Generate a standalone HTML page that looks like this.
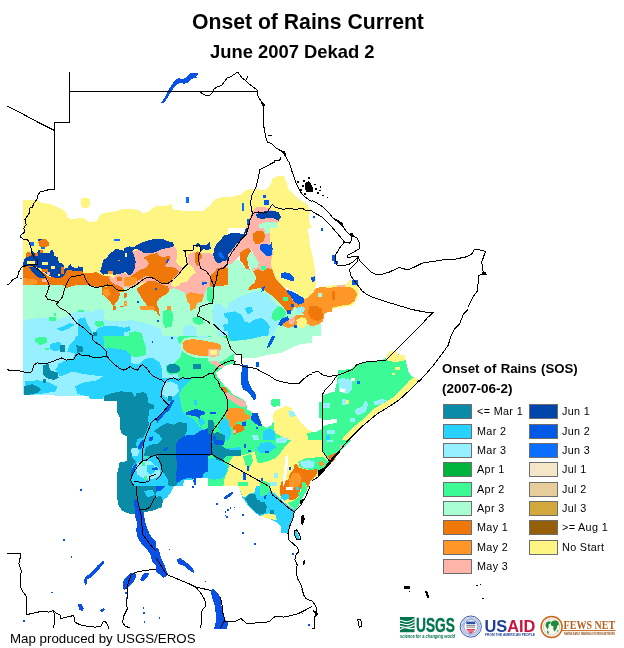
<!DOCTYPE html>
<html><head><meta charset="utf-8"><title>Onset of Rains Current</title>
<style>
html,body{margin:0;padding:0;background:#fff;}
body{width:624px;height:648px;overflow:hidden;position:relative;font-family:"Liberation Sans",Arial,sans-serif;color:#000;}
#map{position:absolute;left:0;top:0;}
.t{position:absolute;white-space:nowrap;line-height:1;will-change:transform;}
#t1{left:192px;top:11px;font-size:21.2px;font-weight:bold;}
#t2{left:210px;top:43px;font-size:18.4px;font-weight:bold;}
#lt1{left:442px;top:362px;font-size:13.2px;font-weight:bold;word-spacing:0.8px;}
#lt2{left:442px;top:382px;font-size:13.5px;font-weight:bold;}
.sw{position:absolute;width:27px;height:13px;border:1px solid #6e6e6e;}
.lb{font-size:10.8px;letter-spacing:0.35px;}
#ft{left:10px;top:632px;font-size:13.3px;}
</style></head><body>
<svg id="map" width="624" height="648" viewBox="0 0 624 648">
<clipPath id="c0"><rect x="0" y="0" width="156" height="162"/></clipPath>
<g clip-path="url(#c0)" shape-rendering="crispEdges">
</g>
<clipPath id="c1"><rect x="0" y="162" width="156" height="162"/></clipPath>
<g clip-path="url(#c1)" shape-rendering="crispEdges">
<polygon fill="#FFF582" points="23,200 37.5,200 41.2,202.5 50,204 56.2,206.5 62.5,209.5 66.2,213.2 67.5,217.5 72.5,219.5 78.8,217.5 85,219 87.5,221.5 93.8,222.5 97.5,220 99.5,215.8 103.8,212.8 112.5,212 121.2,209.5 132.5,209 140,210.8 143,213.8 148.8,211.5 152.5,208.2 156,206.5 156,282 23,282"/>
<polygon fill="#FFF582" points="81.2,199.5 83,197.5 88,197.5 89.5,199.5 89.5,206 88,208 82.5,208 81.2,206"/>
<polygon fill="#AAFFD2" points="23,279.5 156,279.5 156,324 23,324"/>
<polygon fill="#F0780A" points="23,267 30,267 33.8,269 37.5,270 42.5,272 48.8,275.8 57.5,274.5 62.5,271.5 67.5,272 72.5,270.8 80,269.5 85,272 95,271.5 100,273.2 105,275.8 112.5,277 117.5,276.5 125,274.5 135,272 140,269.5 150,264.5 156,262 156,312 150,314.5 146.2,312 140,308.2 138.8,304.5 143.8,302 141.2,292 135,287 130,290.8 125,289.5 127.5,297 130,304.5 123.8,308.2 117.5,304.5 112.5,307 107.5,302 102.5,297 101.2,287 95,287 90,284.5 86.2,282 80,282.5 75,284.5 70,287 65.5,287 60,284.5 50,282 45,281.5 37.5,283.2 30,284 23,284"/>
<polygon fill="#FF9628" points="23,279 37.5,279.5 47.5,279.5 48.8,284 37.5,284.5 23,284.5"/>
<polygon fill="#FF9628" points="102.5,287 110,288.2 112.5,297 107.5,299.5 103.8,294.5"/>
<polygon fill="#0046AA" points="23,259.5 25,254.5 28.8,252 31.2,247 30,242 33.8,242 33.8,247 37.5,248.2 39.5,239.5 41.2,239.5 41.2,248.2 48.8,248.2 48.8,252 52.5,250.8 53.8,257 58.8,258.2 59.5,267 62.5,267 65,265.8 67.5,268.2 72.5,269.5 75,267 82.5,267 82.5,272 75,272 70,273.2 65.5,274.5 60,279.5 57.5,275.8 50,274.5 46.2,272 42.5,268.2 37.5,264.5 32.5,264.5 27.5,265.8 23,265.8"/>
<polygon fill="#0046AA" points="28.8,267 37.5,267 43.8,273.2 47.5,279.5 37.5,278.2 32.5,273.2"/>
<polygon fill="#F0780A" points="41.2,239.5 48.8,239.5 48.8,247 41.2,247"/>
<polygon fill="#F0780A" points="25,252 30,252 30,256.5 25,256.5"/>
<polygon fill="#F0780A" points="35,253.2 39.5,253.2 39.5,257 35,257"/>
<polygon fill="#0A6EFF" points="30,242.5 33.8,242.5 33.8,245.8 30,245.8"/>
<polygon fill="#0A6EFF" points="39.5,246.5 44.5,246.5 44.5,248.5 39.5,248.5"/>
<polygon fill="#FFF582" points="45,258.2 50,258.2 50,262 45,262"/>
<polygon fill="#FFF582" points="40,260.8 43.8,260.8 43.8,264.5 40,264.5"/>
<polygon fill="#FFF582" points="60,257 63.8,257 63.8,259 60,259"/>
<polygon fill="#FFF582" points="66.2,263.2 70,263.2 70,265.8 66.2,265.8"/>
<polygon fill="#FFF582" points="57,272 60,272 60,279.5 57,279.5"/>
<polygon fill="#FFF582" points="51.2,272 55.5,272 55.5,274.5 51.2,274.5"/>
<polygon fill="#FFB4AA" points="43.8,269 48.8,269 48.8,272 43.8,272"/>
<polygon fill="#F0780A" points="60,268.2 65.5,268.2 65.5,272 60,272"/>
<polygon fill="#0046AA" points="100,272 102.5,267 103.8,260.8 107.5,258.2 112.5,252 120,249.5 127.5,248.2 135,245.8 142.5,243.2 150,241.5 156,239.5 156,248.2 150,249.5 145,248.2 138.8,249.5 133.8,252 136.2,260.8 137,269.5 130,270 125,272 117.5,271.5 112.5,274.5 107.5,275.8"/>
<polygon fill="#0A6EFF" points="107.5,270.8 113.8,270.8 113.8,274.5 107.5,274.5"/>
<polygon fill="#0A6EFF" points="114.5,239 120,239 120,240.8 114.5,240.8"/>
<polygon fill="#FFB4AA" points="133.8,252 140,249.5 146.2,249 151.2,250.8 156,249.5 156,260.8 150,264.5 147.5,272 142.5,275.8 136.2,279.5 130,282 125,287 117.5,288.2 113.8,285.8 112.5,279.5 117.5,277 125,274.5 130,270.8 137,269.5 136.2,260.8"/>
<polygon fill="#F0780A" points="142,255.8 148,255.8 148,260.8 142,260.8"/>
<polygon fill="#F0780A" points="150,253.2 156,253.2 156,258.2 150,258.2"/>
<polygon fill="#FFB4AA" points="147.5,277 156,277 156,280.8 147.5,280.8"/>
<polygon fill="#FFB4AA" points="120,297 125,297 125,302 120,302"/>
<polygon fill="#AAFFD2" points="123.8,302 127.5,302 127.5,305.8 123.8,305.8"/>
<polygon fill="#0A6EFF" points="137.5,300.8 139.5,300.8 139.5,303.2 137.5,303.2"/>
<polygon fill="#0A6EFF" points="154,285.8 156,285.8 156,289.5 154,289.5"/>
<polygon fill="#96F0FF" points="63.8,312 67.5,309.5 75,310.8 85,309.5 92.5,310.8 98.8,309.5 105,312 105,315.8 110,319.5 156,320.8 156,327 23,327 23,322 50,320.8 60,319.5 62.5,315.8"/>
<polygon fill="#28D2FF" points="77.5,317 82.5,313.2 87.5,315.8 92.5,313.2 96.2,318.2 95,327 77.5,327"/>
<polygon fill="#3CFA96" points="50,317 53.8,317 53.8,319.5 50,319.5"/>
<polygon fill="#3CFA96" points="78.8,310.8 83.8,310.8 83.8,312.5 78.8,312.5"/>
<polygon fill="#3CFA96" points="100,312 103.8,312 103.8,315 100,315"/>
</g>
<clipPath id="c2"><rect x="0" y="324" width="156" height="162"/></clipPath>
<g clip-path="url(#c2)" shape-rendering="crispEdges">
<polygon fill="#96F0FF" points="23,322.8 157.5,322.8 157.5,399 90,399 88.8,396 32.5,395.2 23,395.2"/>
<polygon fill="#28D2FF" points="75,322.8 157.5,322.8 157.5,396.5 130,391.5 105,395.2 102.5,399 90,399 88.8,396.5 77.5,394 75,386.5 82.5,382.8 97.5,380.2 102.5,376.5 82.5,374 72.5,371.5 60,376.5 55,369 62.5,361.5 72.5,359 75,354 67.5,351.5 70,344 75,339 77.5,331.5"/>
<polygon fill="#28D2FF" points="57.5,326.5 67.5,324 72.5,326.5 67.5,331.5 60,331.5"/>
<polygon fill="#28D2FF" points="50,344 60,341.5 62.5,349 55,351.5 50,349"/>
<polygon fill="#28D2FF" points="25,381.5 37.5,380.2 50,382.8 57.5,386.5 55,391.5 40,394 25,395.2"/>
<polygon fill="#28D2FF" points="57.5,364 65,361.5 67.5,367.8 60,370.2"/>
<polygon fill="#3CFA96" points="102.5,335.2 110,331.5 120,332.8 130,329 142.5,331.5 145,339 146.2,346.5 142.5,351.5 135,356.5 130,351.5 120,349 110,346.5 105,341.5"/>
<polygon fill="#3CFA96" points="35,337.8 46.2,336.5 47.5,342.8 40,345.2 35,341.5"/>
<polygon fill="#3CFA96" points="98.8,322.8 110,322.8 110,327 98.8,327"/>
<polygon fill="#3CFA96" points="45,347.8 48.8,347.8 48.8,350.2 45,350.2"/>
<polygon fill="#96F0FF" points="95,329 102.5,326.5 105,334 100,336.5"/>
<polygon fill="#96F0FF" points="135,349 143.8,351.5 147.5,347.8 150,356.5 140,357.8"/>
<polygon fill="#0A8CA8" points="103.8,396.5 112.5,392 130,391 135,396.5 140,391.5 150,392 157.5,390.2 157.5,419 150,424 146.2,434 142.5,439 140,449 141.2,459 135,464 132.5,474 131,489 117,489 117.5,471.5 119.5,462.8 126.2,461.5 127,436.5 121.2,434 119.5,416.5 116.2,411.5 115.5,400.2"/>
<polygon fill="#0A8CA8" points="42.5,365.2 48.8,364 50,370.2 57.5,372.8 58.8,377.8 53.8,380.2 46.2,377.8 42.5,374"/>
<polygon fill="#0A8CA8" points="23.8,386.5 32.5,384 41.2,389 37.5,392.8 27.5,395.2 23.8,395.2"/>
<polygon fill="#0A8CA8" points="76.2,345.2 82.5,346.5 82.5,351.5 77.5,352.8"/>
<polygon fill="#0A8CA8" points="60,345.2 64.5,345.2 64.5,351.5 60,351.5"/>
<polygon fill="#0A8CA8" points="42.5,379 45.5,379 45.5,382.8 42.5,382.8"/>
<polygon fill="#28D2FF" points="143.8,424 157.5,417.8 157.5,489 131,489 132.5,474 136.2,464 141.2,459 140,449 142.5,439"/>
<polygon fill="#96F0FF" points="132.5,449 138.8,447.8 140,454 135,455.2"/>
<polygon fill="#96F0FF" points="136.2,471.5 145,469 150,474 145,484 137.5,481.5"/>
<polygon fill="#005AE6" points="138.8,444 143.8,440.2 145,444 141.2,449"/>
<polygon fill="#005AE6" points="132.5,466.5 136.2,464 137,471.5 133.8,474"/>
<polygon fill="#005AE6" points="150,467.8 155,466.5 155.5,471.5 151.2,474"/>
<polygon fill="#0A8CA8" points="147.5,446.5 157.5,444 157.5,456.5 150,457.8"/>
<polygon fill="#3CFA96" points="140,464 143.8,464 143.8,467.8 140,467.8"/>
<polygon fill="#005AE6" points="151,340.2 152.5,340.2 152.5,343 151,343"/>
</g>
<clipPath id="c3"><rect x="0" y="486" width="156" height="162"/></clipPath>
<g clip-path="url(#c3)" shape-rendering="crispEdges">
<polygon fill="#0A8CA8" points="117,484.8 157.5,484.8 157.5,509.8 150,511 140,513.5 130,514 122.5,511 118,504.8 117,496"/>
<polygon fill="#28D2FF" points="143.8,491 152.5,489.8 155,494.8 147.5,497.2"/>
<polygon fill="#0A50E6" points="133.8,499.8 137.5,498.5 140,508.5 143.8,513.5 145,521 147.5,528.5 150,534.8 153.8,539.8 157.5,543 157.5,567.2 152.5,562.2 150,553.5 146.2,548.5 141.2,543.5 137,536 136.2,529.8 137.5,523.5 135,516 134.5,507.2"/>
<polygon fill="#0A50E6" points="122.5,582.2 125,578.5 130,573.5 135,572.2 136.2,576 133.8,582.2 130,586 125,589.8 122.5,589"/>
<polygon fill="#0A50E6" points="140,579.8 143.8,573 149.5,573 146.2,579 142.5,581.5"/>
<polygon fill="#0A50E6" points="83.8,579.8 86.2,576 90,574 93.8,569.8 97.5,565.5 101.2,562.2 104.5,559.8 103.8,563.5 100,568 96.2,572.2 92.5,576.5 87.5,579 87,584 85,584.8"/>
<polygon fill="#0A50E6" points="77.5,604.8 81.2,603.5 83.8,608.5 82.5,611 79.5,609.8"/>
<polygon fill="#0A50E6" points="100,609.8 103.8,608 105,609.8 102,613"/>
<polygon fill="#0A50E6" points="80,489 81.5,489 81.5,490.5 80,490.5"/>
<polygon fill="#0A50E6" points="63,539.2 64.5,539.2 64.5,540.8 63,540.8"/>
<polygon fill="#0A50E6" points="70.8,556 72.2,556 72.2,557.5 70.8,557.5"/>
<polygon fill="#0A50E6" points="51.2,591.8 52.8,591.8 52.8,593.2 51.2,593.2"/>
<polygon fill="#0A50E6" points="23,620.2 24.5,620.2 24.5,621.8 23,621.8"/>
<polygon fill="#0A50E6" points="142.5,607.2 144,607.2 144,608.8 142.5,608.8"/>
<polygon fill="#0A50E6" points="143,612.2 144.5,612.2 144.5,613.8 143,613.8"/>
<polygon fill="#0A50E6" points="143.8,621 145.2,621 145.2,622.5 143.8,622.5"/>
<polygon fill="#0A50E6" points="125,592.2 126.5,592.2 126.5,593.8 125,593.8"/>
<polygon fill="#0A50E6" points="125.8,597.2 127.2,597.2 127.2,598.8 125.8,598.8"/>
</g>
<clipPath id="c4"><rect x="156" y="0" width="156" height="162"/></clipPath>
<g clip-path="url(#c4)" shape-rendering="crispEdges">
<polygon fill="#0A50E6" points="160.5,103 163.5,99.5 166,95 168.5,90 171.5,85 174.8,80.5 178.5,78 182.2,79.5 185.5,78 188.5,74.5 191.5,72.5 197.2,72.5 198.5,75 196,76.2 197.2,78 193.5,78 191,79.5 188,82.5 184,83.8 180.5,82.5 177.2,84.5 174,87.5 171,92 168.5,96.2 166,100 163,103"/>
</g>
<clipPath id="c5"><rect x="156" y="162" width="156" height="162"/></clipPath>
<g clip-path="url(#c5)" shape-rendering="crispEdges">
<polygon fill="#FFF582" points="154.8,206.5 166,205.8 171.5,204 173,209.5 183.5,210.8 203.5,210.8 206,208.2 209.8,205.8 214.8,199.5 221,197.5 231,197 241,194.5 244.8,190.8 252.2,189 266,190 269.8,185.8 273,178.2 278.5,175.8 284,175.8 286.5,182 288,188.2 292.2,193.2 297.2,198.2 302.2,201.5 307.2,204.5 309.8,209.5 309,220.8 312,228.2 313.5,327 154.8,327"/>
<polygon fill="#FFB4AA" points="154.8,248.2 171,247 176,249.5 177.2,257 183.5,259.5 188.5,257 193.5,259.5 197.2,254.5 201,253.2 208.5,250.8 214.8,257 218.5,264.5 223.5,267 228.5,262 231,254.5 236,247 241,239.5 244.8,232 247.2,224.5 249.8,217 252.2,212 256,207.5 263.5,206.5 268.5,208.2 273.5,210.8 281,217 278.5,222 271,224.5 261,224.5 258.5,229.5 253.5,234.5 251,242 252.2,249.5 253.5,262 254.8,274.5 238.5,277 231,279.5 226,282 221,287 216,292 206,289.5 196,290.8 186,292 178.5,289.5 171,287 163.5,285.8 154.8,287"/>
<polygon fill="#AAFFD2" points="154.8,287 216,287 221,277 252.2,272 261,292 281,312 283.5,327 154.8,327"/>
<polygon fill="#AAFFD2" points="166,289.5 171,287 181,288.2 191,289.5 198.5,292 206,287 209.8,289.5 212.2,297 206,302 201,302 196,299.5 191,302 191,309.5 193.5,314.5 186,317 181,312 171,309.5 166,312 161,309.5 154.8,312 154.8,304.5 161,302 164.8,297"/>
<polygon fill="#AAFFD2" points="227.2,267 233.5,263.2 238.5,264.5 243.5,269.5 249.8,268.2 253.5,272 252.2,279.5 248.5,287 238.5,297 231,298.2 223.5,297 217.2,302 214.8,292 216,287 222.2,287 227.2,284.5 228.5,277"/>
<polygon fill="#AAFFD2" points="258.5,224.5 266,222 276,222 278.5,227 272.2,230.8 269.8,234.5 266,234.5 262.2,229.5 258.5,229.5"/>
<polygon fill="#AAFFD2" points="252.2,257 256,254.5 261,257 266,258.2 266,264.5 261,269.5 256,272 252.2,272 249.8,267"/>
<polygon fill="#3CFA96" points="154.8,312 161,309.5 166,312 171,317 168.5,327 154.8,327"/>
<polygon fill="#3CFA96" points="206,289.5 212.2,288.2 214.8,297 212.2,307 206,309.5 203.5,302"/>
<polygon fill="#3CFA96" points="231,298.2 238.5,297 248.5,287 256,289.5 261,292 256,298.2 246,302 238.5,304.5 231,307 223.5,304.5 221,299.5"/>
<polygon fill="#3CFA96" points="181,315.8 192.2,314.5 193.5,327 181,327"/>
<polygon fill="#AAFFD2" points="168.5,317 181,312 181,327 168.5,327"/>
<polygon fill="#AAFFD2" points="193.5,314.5 199.8,312 206,309.5 213.5,312 214.8,327 193.5,327"/>
<polygon fill="#96F0FF" points="223.5,304.5 231,307 238.5,304.5 246,302 256,298.2 261,292 267.2,295.8 273.5,302 277.2,308.2 281,312 283.5,318.2 281,327 213.5,327 216,317 221,312"/>
<polygon fill="#28D2FF" points="223.5,314.5 231,312 241,310.8 248.5,312 256,309.5 266,312 273.5,314.5 276,327 221,327"/>
<polygon fill="#96F0FF" points="238.5,312 246,309.5 251,314.5 246,322 239.8,319.5"/>
<polygon fill="#0046AA" points="154.8,239.5 163.5,239 171,241.5 174.8,244.5 174.8,248.2 166,249 161,250.8 154.8,252"/>
<polygon fill="#0046AA" points="196,243.2 199.8,241.5 206,243.2 209.8,242 209.8,248.2 206,252 201,250.8 196,248.2"/>
<polygon fill="#0046AA" points="212.2,249.5 214.8,242 221.5,235.8 233.5,234.5 237.2,232.5 241,235.8 244.8,235.8 242.2,242 236,248.2 231,253.2 227.2,258.2 223.5,263.2 218.5,264.5 214.8,258.2 212.2,254.5"/>
<polygon fill="#0046AA" points="256,214.5 261,212 267.2,210.8 273.5,210.8 278.5,212 281,217 278.5,220.8 273.5,218.2 268.5,217.5 263.5,219 257.2,218.2"/>
<polygon fill="#005AE6" points="263.5,200 269,200 269,204.5 263.5,204.5"/>
<polygon fill="#005AE6" points="263,195 265.5,195 265.5,197.5 263,197.5"/>
<polygon fill="#005AE6" points="247.2,219 249.8,219 249.8,224.5 247.2,224.5"/>
<polygon fill="#005AE6" points="259.8,245.8 263.5,243.2 269.8,244 273,247 273.5,253.2 269.8,257 263.5,256.5 259.8,252"/>
<polygon fill="#005AE6" points="280.2,274.5 283.5,272 289.8,272.5 294,275.8 293,280.8 286,281.5 281,279.5"/>
<polygon fill="#0046AA" points="282.2,288.2 286,290.8 292.2,297 297.2,298.2 303.5,304.5 301,307 294.8,304.5 292.2,308.2 287.2,302 283.5,294.5"/>
<polygon fill="#005AE6" points="284.8,317 288.5,317 288.5,322 284.8,322"/>
<polygon fill="#005AE6" points="261,287 264.8,287 264.8,290.8 261,290.8"/>
<polygon fill="#0A6EFF" points="218,253.2 220.5,253.2 220.5,258.2 218,258.2"/>
<polygon fill="#F0780A" points="154.8,252 161,250.8 166,253.2 169.8,258.2 173.5,262 177.2,267 181,269.5 176,274.5 171,277 168.5,282 163.5,284.5 154.8,283.2"/>
<polygon fill="#F0780A" points="154.8,285.8 163.5,284.5 167.2,289.5 164.8,297 161,302 154.8,304.5"/>
<polygon fill="#F0780A" points="171,272 181,269.5 186,273.2 183.5,279.5 176,282 171,279.5"/>
<polygon fill="#F0780A" points="212.2,272 217.2,269.5 222.2,267 227.2,269.5 228.5,277 227.2,284.5 222.2,287 218.5,282 216,287 212.2,288.2 211,279.5"/>
<polygon fill="#F0780A" points="239.8,249.5 243.5,248.2 247.2,249.5 251,248.2 252.2,257 248.5,260.8 249.8,267 244.8,269.5 239.8,265.8 238.5,258.2"/>
<polygon fill="#F0780A" points="252.2,234.5 256,232 262.2,229.5 266,234.5 264.8,239.5 259.8,244.5 254.8,245.8 252.2,240.8"/>
<polygon fill="#F0780A" points="252.2,279.5 256,272 263.5,268.2 268.5,269.5 272.2,273.2 273.5,282 278.5,287 283.5,292 286,298.2 291,304.5 292.2,309.5 288.5,314.5 292.2,318.2 296,327 281,327 283.5,318.2 281,312 277.2,308.2 273.5,302 268.5,297 263.5,292 257.2,289.5 251,287"/>
<polygon fill="#F0780A" points="191,302 196,299.5 199.8,305.8 198,312 193.5,314.5 191,309.5"/>
<polygon fill="#F0780A" points="198.5,253.2 206,252.5 207.2,262 202.2,264.5 198.5,260.8"/>
<polygon fill="#FF9628" points="306,302 313.5,297 313.5,327 303.5,327 302.2,312"/>
<polygon fill="#3CFA96" points="292.2,309.5 298.5,307 303.5,309.5 306,317 301,327 296,327 292.2,318.2 288.5,314.5"/>
<polygon fill="#0A6EFF" points="186,197 188.5,197 188.5,203.2 186,203.2"/>
<polygon fill="#0A6EFF" points="241.8,203.2 243.5,203.2 243.5,210.8 241.8,210.8"/>
<polygon fill="#000000" points="297,181 298.5,181 298.5,182.5 297,182.5"/>
<polygon fill="#000000" points="303,180 304.5,180 304.5,181.5 303,181.5"/>
<polygon fill="#000000" points="308,177 309.5,177 309.5,178.5 308,178.5"/>
<polygon fill="#000000" points="302,185 303.5,185 303.5,186.5 302,186.5"/>
<polygon fill="#000000" points="300,189 301.5,189 301.5,190.5 300,190.5"/>
<polygon fill="#000000" points="304,193 305.5,193 305.5,194.5 304,194.5"/>
<polygon fill="#000000" points="305,183 309,181 312.5,186 312.5,192 306,192 305,188"/>
</g>
<clipPath id="c6"><rect x="156" y="324" width="156" height="162"/></clipPath>
<g clip-path="url(#c6)" shape-rendering="crispEdges">
<rect x="156" y="324" width="156" height="162" fill="#3CFA96"/>
<polygon fill="#28D2FF" points="154.8,322.8 213.5,322.8 218.5,331.5 206,336.5 193.5,334 181,339 178.5,349 171,354 166,364 163.5,374 154.8,376.5"/>
<polygon fill="#28D2FF" points="213.5,322.8 286,322.8 281,329 271,334 261,336.5 251,339 238.5,340.2 231,341.5 228.5,336.5 223.5,331.5"/>
<polygon fill="#96F0FF" points="158.5,322.8 171,322.8 173.5,329 166,334 158.5,331.5"/>
<polygon fill="#96F0FF" points="223.5,326.5 233.5,325.2 238.5,330.2 231,334 226,331.5"/>
<polygon fill="#AAFFD2" points="218.5,334 231,341.5 251,339 271,334 283.5,327.8 291,330.2 313.5,329 313.5,344 301,345.2 291,349 281,353.5 266,356 256,358.5 243.5,358.5 241,354 236,353.5 231,355.2 226,359 221.5,361.5 216,361.5 211,364 206,359 193.5,356.5 183.5,349 181,341.5 188.5,337.8 201,339 211,336.5"/>
<polygon fill="#AAFFD2" points="171,326.5 183.5,324 191,329 186,335.2 176,334"/>
<polygon fill="#FF9628" points="182.2,344 186,340.2 193.5,339 206,341.5 216,342.8 221.5,345.2 220.5,350.2 214.8,351.5 208.5,355.2 201,356 193.5,354 187.2,351.5 183,347.8"/>
<polygon fill="#FFB4AA" points="207.2,349 218.5,348.5 219.8,355.2 212.2,357.8 207.2,355.2"/>
<polygon fill="#FFF582" points="209.8,350.2 217.2,350.2 217.2,355.2 209.8,355.2"/>
<polygon fill="#FFB4AA" points="209.8,361.5 216,361 223.5,365.2 223.5,369 216,366.5"/>
<polygon fill="#F0780A" points="282.2,322.8 296,322.8 306,325.2 313.5,322.8 313.5,327.8 303.5,329.5 293.5,327.8 286,327"/>
<polygon fill="#005AE6" points="292.2,324.5 299.8,324.5 299.8,327.5 292.2,327.5"/>
<polygon fill="#28D2FF" points="154.8,377.8 188.5,378.5 191,394 193.5,399 188.5,406.5 181,414 178.5,424 171,426.5 163.5,424 154.8,429"/>
<polygon fill="#96F0FF" points="158.5,380.2 166,377.8 176,380.2 183.5,381.5 183.5,389 173.5,394 168.5,399 163.5,401.5 159.8,394"/>
<polygon fill="#28D2FF" points="188.5,422.8 193.5,416.5 201,421.5 206,422.8 208.5,422.8 203.5,426.5 196,424"/>
<polygon fill="#0A8CA8" points="154.8,424 163.5,422.8 171,425.2 178.5,424 183.5,420.2 188.5,422.8 196,424 203.5,426.5 208.5,422.8 212.2,421.5 213.5,426.5 209.8,434 203.5,431.5 196,436.5 188.5,441.5 181,446.5 176,454 154.8,454"/>
<polygon fill="#0A8CA8" points="154.8,454 178.5,454 177.2,464 176,474 173.5,484 154.8,489"/>
<polygon fill="#0A8CA8" points="212.2,455.2 226,456.5 228.5,464 223.5,469 216,466.5 208.5,469 209.8,461.5"/>
<polygon fill="#0A8CA8" points="167.2,365.2 173.5,363.5 179.8,366.5 178.5,371.5 171,372.8 167.2,370.2"/>
<polygon fill="#0A8CA8" points="193.5,364 201,364 201,369 193.5,369"/>
<polygon fill="#0A8CA8" points="166,396.5 172.2,395.2 173.5,401.5 168.5,404"/>
<polygon fill="#005AE6" points="176,454 181,446.5 188.5,441.5 196,436.5 201,431.5 209.8,434 211,454 212.2,464 208.5,469 206,476.5 201,480.2 193.5,481.5 186,482.8 178.5,481.5 176,474 177.2,464"/>
<polygon fill="#005AE6" points="154.8,416.5 161,411.5 167.2,405.2 171,401.5 172.2,404 167.2,410.2 161,417.8 154.8,421"/>
<polygon fill="#005AE6" points="186,411.5 191,409 197.2,410.2 203.5,411.5 209.8,411.5 216,412 214.8,414 206,414.5 202.2,417.8 196,419 191,415.2 186,414.5"/>
<polygon fill="#28D2FF" points="212.2,464 228.5,464 231,469 226,474 223.5,480.2 213.5,481.5 206,480.2 206,476.5 208.5,469 216,466.5 223.5,469"/>
<polygon fill="#FFFFFF" points="233.5,355.2 239.8,354 242.2,357.8 256,357.8 266,355.2 281,352.8 291,347.8 301,344 313.5,342.8 313.5,431.5 306,429 301,424 296,419 296,411.5 291,406.5 281,406.5 276,411.5 273.5,416.5 269.8,419 266,424 263.5,429 261,422.8 258.5,416.5 254.8,412.8 251,412.8 248.5,409 246,404 241,401.5 236,397.8 231,395.2 227.2,392.8 223.5,387.8 221,384 218.5,379 216,372.8 221,369 226,365.2 231,364 236,364 233.5,359"/>
<polygon fill="#3CFA96" points="269.8,400.2 273.5,398.5 279.8,399 279.8,405.2 273.5,407 269.8,404.5"/>
<polygon fill="#96F0FF" points="288.5,409 293.5,409 293.5,414 288.5,414"/>
<polygon fill="#FFF582" points="273.5,416.5 281,406.5 291,406.5 296,411.5 296,419 301,424 313.5,431.5 313.5,464 306,459 298.5,464 291,462.8 287,474 286,489 228.5,489 226,474 231,464 236,459 243.5,457.8 256,456.5 266,454 276,455.2 283.5,449 288.5,444 291,437.8 286,431.5 281,429 276,424"/>
<polygon fill="#3CFA96" points="296,419 301,424 308.5,429 306,436.5 298.5,434 293.5,426.5"/>
<polygon fill="#3CFA96" points="251,474 261,471.5 268.5,466.5 276,464 281,469 273.5,474 263.5,477.8 256,480.2"/>
<polygon fill="#3CFA96" points="296,444 306,441.5 313.5,444 313.5,454 303.5,452.8 296,450.2"/>
<polygon fill="#28D2FF" points="251,434 258.5,431.5 266,429 273.5,431.5 274.8,439 266,442.8 256,444 251,441.5"/>
<polygon fill="#96F0FF" points="276,437.8 286,436.5 291,441.5 281,444"/>
<polygon fill="#96F0FF" points="284.8,410.2 292.2,407.8 294.8,414 288.5,416.5"/>
<polygon fill="#28D2FF" points="256,451.5 268.5,449 271,454 261,456.5"/>
<polygon fill="#005AE6" points="242.2,365.2 248,365.2 248.5,379 252.2,389 256,395.2 254.8,400.2 251,397.8 247.2,390.2 242.2,386.5 241,377.8"/>
<polygon fill="#005AE6" points="272.2,335.2 276,334 273.5,340.2 269.8,346.5 266.5,348.5 268.5,342.8"/>
<polygon fill="#005AE6" points="256,361.5 259,361.5 259,366.5 256,366.5"/>
<polygon fill="#005AE6" points="252.2,412.8 258.5,412.8 259.8,420.2 261,425.2 256,426.5 252.2,422.8"/>
<polygon fill="#005AE6" points="242.2,471.5 245.5,471.5 245.5,479 242.2,479"/>
<polygon fill="#005AE6" points="247.2,464 249,464 249,470.2 247.2,470.2"/>
<polygon fill="#005AE6" points="288.5,466.5 291,466.5 291,470.2 288.5,470.2"/>
<polygon fill="#005AE6" points="243.5,441.5 245.5,441.5 245.5,449 243.5,449"/>
<polygon fill="#FF9628" points="226,410.2 231,407.8 238.5,409 244.8,409 246,415.2 249.8,416.5 248.5,420.2 241,422.8 236,420.2 231,422.8 227.2,419"/>
<polygon fill="#F0780A" points="221.5,387.8 227.2,388.5 228.5,394 224.8,392.8"/>
<polygon fill="#F0780A" points="236,426.5 243.5,425.2 244.8,431.5 237.2,432.8"/>
<polygon fill="#FFB4AA" points="227.2,395.2 231,396.5 236,399 243.5,402 245.5,406.5 241,407.8 234.8,403.5 229.8,400.2"/>
<polygon fill="#FFB4AA" points="232.2,429 237.2,429 237.2,434 232.2,434"/>
<polygon fill="#F0780A" points="292.2,464 298.5,466.5 303.5,471.5 313.5,467.8 313.5,489 288.5,489 289.8,474"/>
<polygon fill="#FF9628" points="308.5,466.5 313.5,466.5 313.5,474 308.5,474"/>
<polygon fill="#FFF582" points="296,476.5 303.5,476.5 303.5,482.8 296,482.8"/>
<polygon fill="#FFFFFF" points="179.8,481.5 193.5,482 206,481 221,482 223.5,489 179.8,489"/>
<polygon fill="#FFFFFF" points="282.2,471.5 284.8,464 286.5,464 286,489 283,489"/>
</g>
<clipPath id="c7"><rect x="156" y="486" width="156" height="162"/></clipPath>
<g clip-path="url(#c7)" shape-rendering="crispEdges">
<polygon fill="#28D2FF" points="154.8,484.8 174.8,484.8 171,492.2 167.2,497.2 162.2,501 161,507.2 154.8,509.8"/>
<polygon fill="#0A8CA8" points="154.8,497.2 161,496 163,501 161.5,507.2 154.8,509.8"/>
<polygon fill="#005AE6" points="154.8,484.8 166,484.8 161,490.5 154.8,492.2"/>
<polygon fill="#28D2FF" points="238.5,484.8 242.2,497.2 248.5,506 254.8,512.2 261,517.2 268.5,521 276,523.5 281,532.2 288.5,533 292.2,523.5 294.2,513.5 299.8,507.2 304.8,498.5 308.5,491 311,484.8"/>
<polygon fill="#0A8CA8" points="244.8,498.5 249.8,493.5 254.8,493.5 257.2,499.8 262.2,501 266,506 266,513.5 261,516.5 254.8,511 248.5,504.8"/>
<polygon fill="#FFF582" points="261,516 266,513.5 273.5,517.2 276,521 268.5,520.5"/>
<polygon fill="#FFF582" points="238.5,484.8 256,484.8 254.8,492.2 249.8,493.5 244.8,497.2 242.2,496"/>
<polygon fill="#3CFA96" points="269.8,487.2 281,484.8 296,484.8 293.5,493.5 286,498.5 281,504.8 273.5,499.8"/>
<polygon fill="#F0780A" points="281,484.8 306,484.8 303.5,496 298.5,503.5 292.2,508.5 286,501 289.8,496 283.5,492.2"/>
<polygon fill="#3CFA96" points="286,501 292.2,508.5 296,511 299.8,507.2 302.2,501 298.5,503.5 292.2,508.5"/>
<polygon fill="#FFFFFF" points="284.8,484.8 292.2,484.8 292.2,489.8 284.8,489.8"/>
<polygon fill="#005AE6" points="296,502.2 300.5,502.2 300.5,506 296,506"/>
<polygon fill="#0A8CA8" points="269.8,509.8 273.5,509.8 273.5,513.5 269.8,513.5"/>
<polygon fill="#FFF582" points="269.8,516 276,516 276,519 269.8,519"/>
<polygon fill="#0A50E6" points="154.8,547.2 158.5,548.5 161,558.5 164.8,566 168,574.8 163.5,578 158.5,573.5 154.8,571"/>
<polygon fill="#0A50E6" points="176.5,559.8 179.8,558 184.8,561 189.8,565.5 194.8,571 193.5,573 188.5,569.8 183.5,565.5 178.5,564"/>
<polygon fill="#0A50E6" points="210.5,591 213,588.5 217.2,592.2 220.5,597.2 221.5,606 223,613.5 224.8,619.8 228,622.2 227.2,628.5 214,628.5 215.5,623.5 216,616 214.8,606 212.2,598.5"/>
<polygon fill="#0A50E6" points="223.5,497.2 227.2,494.8 231,492.2 234,491.5 232.2,494.8 228.5,497.2 224.8,499.8"/>
<polygon fill="#0A50E6" points="216,503 217.5,503 217.5,504.5 216,504.5"/>
<polygon fill="#0A50E6" points="224.8,511 226.2,511 226.2,512.5 224.8,512.5"/>
<polygon fill="#0A50E6" points="227.2,509 228.8,509 228.8,510.5 227.2,510.5"/>
<polygon fill="#0A50E6" points="229.8,507.2 231.2,507.2 231.2,508.8 229.8,508.8"/>
<polygon fill="#0A50E6" points="233.5,506.5 235,506.5 235,508 233.5,508"/>
<polygon fill="#0A50E6" points="226,516 227.5,516 227.5,517.5 226,517.5"/>
<polygon fill="#0A50E6" points="242.2,514 243.8,514 243.8,515.5 242.2,515.5"/>
<polygon fill="#0A50E6" points="242.2,532.2 243.8,532.2 243.8,533.8 242.2,533.8"/>
<polygon fill="#0A50E6" points="254.2,543 255.8,543 255.8,544.5 254.2,544.5"/>
<polygon fill="#0A50E6" points="168.5,548.5 170,548.5 170,550 168.5,550"/>
<polygon fill="#0A50E6" points="204.8,580.5 206.2,580.5 206.2,582 204.8,582"/>
<polygon fill="#0A50E6" points="292.2,553 293.8,553 293.8,554.5 292.2,554.5"/>
<polygon fill="#0A50E6" points="158.5,617.2 160,617.2 160,618.8 158.5,618.8"/>
<polygon fill="#0A50E6" points="301.5,612.8 303,612.8 303,614.2 301.5,614.2"/>
<polygon fill="#0A50E6" points="308,624 309.5,624 309.5,625.5 308,625.5"/>
<polygon fill="#0A50E6" points="297.2,578.5 298.8,578.5 298.8,580 297.2,580"/>
<polygon fill="#0A50E6" points="301,588.5 302.5,588.5 302.5,590 301,590"/>
<polygon fill="#0A50E6" points="192.2,486 193.8,486 193.8,487.5 192.2,487.5"/>
<polygon fill="#0A50E6" points="224.8,514.8 226.2,514.8 226.2,516.2 224.8,516.2"/>
<polygon fill="#28D2FF" points="294,531 296.5,529.8 299.8,534.8 300.5,539.8 297.2,539.8 294.8,536"/>
<polygon fill="#000000" points="300.5,517.2 303.5,515.5 304,521 301.5,524.8"/>
<polygon fill="#000000" points="303,561 305.5,559 304.5,564 302.5,566"/>
</g>
<clipPath id="c8"><rect x="312" y="162" width="156" height="162"/></clipPath>
<g clip-path="url(#c8)" shape-rendering="crispEdges">
<polygon fill="#FFF582" points="310.8,260.8 315,260.8 315.5,274.5 310.8,279.5"/>
<polygon fill="#FFF582" points="310.8,287 317,285.8 327,284.5 339.5,285 347,284 349.5,279.5 353.2,279.5 358.2,285.8 359.5,292 357,299.5 352,305.8 342,307 332,309.5 327,314.5 324.5,327 310.8,327"/>
<polygon fill="#FF9628" points="310.8,292 317,288.2 327,287 339.5,287 349.5,286.5 354.5,289.5 357,294.5 354.5,300.8 349.5,304.5 339.5,305.8 330.8,308.2 325.8,313.2 323.2,327 310.8,327"/>
<polygon fill="#F0780A" points="310.8,302 317,304.5 322,309.5 323.2,317 322,327 310.8,327"/>
<polygon fill="#F0780A" points="330.8,290.8 334.5,290.8 334.5,299.5 330.8,299.5"/>
<polygon fill="#AAFFD2" points="318.2,292.5 322.5,292.5 322.5,297 318.2,297"/>
<polygon fill="#AAFFD2" points="313.2,320 320.8,320 320.8,327 313.2,327"/>
<polygon fill="#FFB4AA" points="337,285 344.5,285 344.5,287 337,287"/>
<polygon fill="#005AE6" points="310.8,275.8 315.5,275.8 315.5,280.8 310.8,280.8"/>
<polygon fill="#005AE6" points="352,279.5 358.2,279.5 358.2,284.5 352,284.5"/>
<polygon fill="#005AE6" points="332,254.5 334.5,254.5 334.5,260.8 332,260.8"/>
<polygon fill="#005AE6" points="334,260.8 337.5,260.8 337.5,263.8 334,263.8"/>
<polygon fill="#005AE6" points="312.5,215.8 315,215.8 315,218.2 312.5,218.2"/>
<polygon fill="#005AE6" points="320.8,227.5 322.5,227.5 322.5,230.8 320.8,230.8"/>
<polygon fill="#005AE6" points="310.8,289.5 318.2,286.5 318.2,288.5 310.8,292.5"/>
<polygon fill="#000000" points="315,188 316.5,188 316.5,189.5 315,189.5"/>
<polygon fill="#000000" points="317,192 318.5,192 318.5,193.5 317,193.5"/>
<polygon fill="#000000" points="319,189.5 320.5,189.5 320.5,191 319,191"/>
<polygon fill="#000000" points="322,194.5 323.5,194.5 323.5,196 322,196"/>
<polygon fill="#000000" points="326.5,196.5 328,196.5 328,198 326.5,198"/>
<polygon fill="#000000" points="314,183.5 315.5,183.5 315.5,185 314,185"/>
<polygon fill="#000000" points="319.5,186 321,186 321,187.5 319.5,187.5"/>
<polygon fill="#000000" points="349,232.8 352,232.8 355,236.5 352,237"/>
<polygon fill="#000000" points="311.5,186 313.2,187 313.2,191.5 311.5,192"/>
</g>
<clipPath id="c9"><rect x="312" y="324" width="156" height="162"/></clipPath>
<g clip-path="url(#c9)" shape-rendering="crispEdges">
<polygon fill="#AAFFD2" points="310.8,326.5 319.5,324 322,326.5 314.5,335.2 310.8,335.2"/>
<polygon fill="#FF9628" points="316.5,322.8 322.5,322.8 322.5,325.5 316.5,325.5"/>
<polygon fill="#3CFA96" points="310.8,431.5 317,431.5 322,429 322,419 319,417.8 319,401.5 323.2,401.5 323.2,395.2 334.5,391.5 337,381.5 338.2,370.2 352,369 355.8,365.2 362,362.8 377,361.5 384.5,359 387,356.5 394.5,354 404.5,355.2 406.5,364 408.2,371.5 412,376.5 419.5,380.2 412,387.8 404.5,395.2 397,401.5 387,407.8 377,414 369.5,420.2 362,426.5 354.5,434 347,441.5 342,447.8 337,454 332,460.2 327,466.5 322,472.8 317,477.8 310.8,481"/>
<polygon fill="#FFF582" points="419.5,380.2 412,387.8 404.5,395.2 397,401.5 387,407.8 377,414 369.5,420.2 362,426.5 354.5,434 347,441.5 342,447.8 339.5,444 343.2,437.8 349.5,431.5 355.8,425.2 362,420.2 368.2,414 373.2,409 382,404 390.8,399 398.2,392.8 404.5,386.5 409.5,380.2 414.5,377"/>
<polygon fill="#FFF582" points="385.8,356.5 389.5,351.5 395.8,351 398.2,355.2 404.5,355.2 405.8,360.2 399.5,361.5 392,361.5 387,360.2"/>
<polygon fill="#FFF582" points="394.5,366.5 399.5,366.5 399.5,370.2 394.5,370.2"/>
<polygon fill="#FFF582" points="392,372.8 394.5,372.8 394.5,375.2 392,375.2"/>
<polygon fill="#FFF582" points="345.8,400.2 349,400.2 349,403.5 345.8,403.5"/>
<polygon fill="#FFF582" points="310.8,446.5 318.2,445.8 321.5,449 321.5,457.8 310.8,459"/>
<polygon fill="#AAFFD2" points="310.8,462 318.2,462 318.2,467.8 310.8,467.8"/>
<polygon fill="#FF9628" points="318.2,459 323.2,459 323.2,464 318.2,464"/>
<polygon fill="#96F0FF" points="338.2,380.2 342,377.8 352,380.2 352,389 347,394 339.5,391.5"/>
<polygon fill="#96F0FF" points="322,402.8 329.5,402.8 329.5,407.8 322,407.8"/>
<polygon fill="#96F0FF" points="373.2,401.5 382,399 387,400.2 382,404 374.5,405.2"/>
<polygon fill="#96F0FF" points="355.8,409 362,406.5 365.8,400.2 368.2,404 365.8,411.5 358.2,415.2 354.5,412.8"/>
<polygon fill="#96F0FF" points="342,399 345.8,399 345.8,405.2 342,405.2"/>
<polygon fill="#96F0FF" points="349.5,417.8 354.5,417.8 354.5,421.5 349.5,421.5"/>
<polygon fill="#96F0FF" points="327,429.5 334.5,429.5 334.5,434 327,434"/>
<polygon fill="#28D2FF" points="325.8,435.2 329.5,435.2 329.5,441.5 325.8,441.5"/>
<polygon fill="#0A6EFF" points="356.5,381 359.5,381 359.5,384 356.5,384"/>
<polygon fill="#FFFFFF" points="350.8,377.8 354.5,377.8 354.5,381 350.8,381"/>
<polygon fill="#FFFFFF" points="322.5,420.2 337,419 337,422.8 329.5,424 322.5,426.5"/>
<polygon fill="#FFFFFF" points="339.5,387.8 345.8,389.5 344.5,392.8 340,391.5"/>
<polygon fill="#F0780A" points="327.5,456.5 332,453.5 335,454 335.8,457.8 332,461.5 328.2,465.2 323.2,469.5 319,473 314.5,475.5 310.8,476 310.8,471 318.2,467.8 323.2,462.8"/>
<polygon fill="#FFB4AA" points="339,446.5 342.5,446.5 342.5,450.2 339,450.2"/>
<polygon fill="#3CFA96" points="310.8,471.5 317,471.5 317,475.2 310.8,475.2"/>
</g>
<clipPath id="c10"><rect x="312" y="486" width="156" height="162"/></clipPath>
<g clip-path="url(#c10)" shape-rendering="crispEdges">
<polygon fill="#000000" points="404,586 410,586 410,588.5 404,588.5"/>
<polygon fill="#000000" points="408.5,591 409.5,591 409.5,592 408.5,592"/>
<polygon fill="#000000" points="425,591 427,591 429.5,597.2 427.5,598.5"/>
</g>
<clipPath id="c11"><rect x="468" y="162" width="156" height="162"/></clipPath>
<g clip-path="url(#c11)" shape-rendering="crispEdges">
<polygon fill="#000000" points="481.8,271.5 485.5,272 486.8,275 482.5,275"/>
</g>
<clipPath id="c12"><rect x="468" y="486" width="156" height="162"/></clipPath>
<g clip-path="url(#c12)" shape-rendering="crispEdges">
<polygon fill="#000000" points="476,584.8 477.5,584.8 477.5,586.2 476,586.2"/>
<polygon fill="#000000" points="479.8,583.5 481.2,583.5 481.2,585 479.8,585"/>
<polygon fill="#000000" points="482.2,597.8 483.8,597.8 483.8,599.2 482.2,599.2"/>
</g>
<clipPath id="c13"><rect x="20" y="228" width="104" height="108"/></clipPath>
<g clip-path="url(#c13)" shape-rendering="crispEdges">
<rect x="20" y="228" width="104" height="108" fill="#FFF582"/>
<polygon fill="#FFFFFF" points="19.2,227.2 23,227.2 23,338 19.2,338"/>
<polygon fill="#AAFFD2" points="23,284.7 125,284.7 125,338 23,338"/>
<polygon fill="#F0780A" points="23,267.2 30,265.5 36.7,268 41.7,271.3 48.3,276.3 56.7,278 63.3,275.5 66.7,269.7 70,268.8 75,270.5 80,269.7 83.3,273 90,273 96.7,272.2 103.3,275.5 110,276.3 113.3,278 118.3,276.3 125,275.5 125,291.3 120,292.2 113.3,288 106.7,286.3 100,287.2 93.3,286.3 90,285 86.7,284.7 76.7,285 70,286.7 66.7,288.3 63.3,285.5 56.7,285 50,285 43.3,285 36.7,285 30,285 23,285"/>
<polygon fill="#FF9628" points="23,278 36.7,279.7 37.5,283.8 30,285 23,285"/>
<polygon fill="#F0780A" points="101.7,287.2 108.3,286.3 113.3,288 118.3,290.5 120,294.7 118.3,299.7 113.3,306.3 110,301.3 106.7,298 102.5,294.7"/>
<polygon fill="#FF9628" points="102.5,289.7 108.3,288.8 110.8,294.7 106.7,297.2 103.3,293.8"/>
<polygon fill="#F0780A" points="113.3,306.3 115.8,306.3 115.8,309.7 113.3,309.7"/>
<polygon fill="#F0780A" points="120,305.5 125,305.5 125,307.2 120,307.2"/>
<polygon fill="#FFB4AA" points="108.3,276.3 113.3,278 118.3,273 125,272.2 125,289.7 120,286.3 115,284.7 110.8,281.3"/>
<polygon fill="#F0780A" points="116.7,277.2 121.7,277.2 121.7,281.3 116.7,281.3"/>
<polygon fill="#FFB4AA" points="41.7,278.8 47.5,278.8 47.5,282.2 41.7,282.2"/>
<polygon fill="#0046AA" points="23,263.8 24.2,258.8 27.5,256.3 30,253 32.5,251.3 36.7,254.7 38.3,249.7 41.7,249.7 43.3,253 50,253 50.8,249.7 53.3,250.5 54.2,255.5 57.5,257.2 59.2,263 63.3,263.8 64.2,268.8 67.5,268 70,263.8 72.5,267.2 77.5,268 78.3,266.3 82.5,267.2 83,271.7 78.3,270.5 73.3,271 70,269.7 66.7,270.5 63.7,276.3 60,278 55.8,278 50,276.3 46.7,273.8 43.3,270.5 40,268 35.8,267.2 30,265.5 23,267.2"/>
<polygon fill="#0046AA" points="29.2,267.2 35.8,267.2 40,270.5 43.3,274.7 45,278 40,278 35.8,275.5 31.7,271.3"/>
<polygon fill="#0046AA" points="38.3,238.8 41.7,238.8 41.7,241.3 38.3,241.3"/>
<polygon fill="#F0780A" points="38.3,242.2 42.5,238.8 46.7,239.7 49.2,243 48.3,246.3 43.3,247.2 39.2,246.3"/>
<polygon fill="#0A6EFF" points="30,242.2 33.7,242.2 33.7,245.5 30,245.5"/>
<polygon fill="#0A6EFF" points="41.3,247.2 45,247.2 45,248.8 41.3,248.8"/>
<polygon fill="#F0780A" points="25.8,253 29.2,251.3 31.7,254.7 28.3,257.2 25.8,256.3"/>
<polygon fill="#F0780A" points="35,253 38.3,253 38.3,256.3 35,256.3"/>
<polygon fill="#F0780A" points="40,249.7 43.3,249.7 43.3,253 40,253"/>
<polygon fill="#FFF582" points="41.7,262.2 47.5,262.2 47.5,264.7 41.7,264.7"/>
<polygon fill="#FFF582" points="26.7,261.3 35,261.3 35,263.8 26.7,263.8"/>
<polygon fill="#FFF582" points="59.2,258 63.7,258 63.7,259.7 59.2,259.7"/>
<polygon fill="#FFF582" points="50.8,266.3 55,266.3 55,268.8 50.8,268.8"/>
<polygon fill="#FFF582" points="57.5,273.8 60,273.8 60,276.3 57.5,276.3"/>
<polygon fill="#F0780A" points="41.7,268.8 47.5,268.8 47.5,271.7 41.7,271.7"/>
<polygon fill="#FFB4AA" points="46.7,272.2 50,272.2 50,274.7 46.7,274.7"/>
<polygon fill="#F0780A" points="60.8,267.2 63.7,267.2 63.7,273.8 60.8,273.8"/>
<polygon fill="#0046AA" points="100,271.7 101.7,266.3 103.3,259.7 106.7,258 110,253 113.3,251.3 115.8,248.8 120,249.7 125,251.3 125,273 118.3,273.8 113.3,275.5 110.8,271.7 108.3,273.8 103.3,274.7"/>
<polygon fill="#FF9628" points="108.3,271 113,271 113,273.8 108.3,273.8"/>
<polygon fill="#0A6EFF" points="114.2,238.8 119.7,238.8 119.7,241 114.2,241"/>
<polygon fill="#FF9628" points="117.5,259.7 120,259.7 120,261 117.5,261"/>
<polygon fill="#96F0FF" points="23,321.3 30,318.8 40,318 50,317.2 58.3,319.7 68.3,316.3 75,311.3 83.3,309.7 91.7,312.2 98.3,308.8 105,311.3 103.3,318 108.3,321.3 125,320.5 125,338 23,338"/>
<polygon fill="#28D2FF" points="56.7,328.8 63.3,326.3 70,323 75,324.7 68.3,328.8 61.7,331.3"/>
<polygon fill="#28D2FF" points="78.3,318.8 85,317.2 86.7,323 90,328 93.3,334.7 93.3,338 78.3,338"/>
<polygon fill="#28D2FF" points="93.3,334.7 98.3,328 106.7,325.5 116.7,326.3 125,328 125,338 93.3,338"/>
<polygon fill="#3CFA96" points="95,321.3 103.3,320.5 104.2,325.5 98.3,327.2 95,324.7"/>
<polygon fill="#3CFA96" points="49.2,317.2 55.8,317.2 55.8,320.5 49.2,320.5"/>
<polygon fill="#3CFA96" points="78.3,309.7 84.2,309.7 84.2,312.2 78.3,312.2"/>
<polygon fill="#3CFA96" points="54.2,313.3 56.3,313.3 56.3,316.3 54.2,316.3"/>
<polygon fill="#0A8CA8" points="93.3,332.2 96.7,332.2 96.7,336.3 93.3,336.3"/>
<polygon fill="#0A6EFF" points="20,278 22,278 22,279.3 20,279.3"/>
</g>
<clipPath id="c14"><rect x="104" y="336" width="104" height="42"/></clipPath>
<g clip-path="url(#c14)" shape-rendering="crispEdges">
<rect x="104" y="336" width="104" height="42" fill="#96F0FF"/>
<polygon fill="#28D2FF" points="103.2,347.5 114,348.3 125.7,350 130.7,355 131.5,363.3 139.8,364.2 144,359.2 152.3,357.5 159.8,362.5 162.3,370 161.5,378.3 163.2,380 161.5,386.7 160.7,396.7 165.7,401.7 170.7,400 174,396.7 177.3,400 174,410 103.2,410"/>
<polygon fill="#3CFA96" points="103.2,335 129,335 142.3,335 144,341.7 146.5,348.3 145.7,355 139,356.7 134,357.5 130.7,355 125.7,350 114,348.3 103.2,347.5"/>
<polygon fill="#3CFA96" points="180.7,335 209,335 209,410 182.3,410 179,400 179.8,391.7 185.7,386.7 182.3,381.7 179,378.3 177.3,373.3 170.7,375 165.7,371.7 166.5,365 174,363.3 180.7,356.7 182.3,350 179,343.3 177.3,338.3"/>
<polygon fill="#AAFFD2" points="179.8,344.2 184,338 194,336.7 209,338 209,358.3 197.3,358.3 187.3,355 181.5,350"/>
<polygon fill="#FF9628" points="182.3,343.3 185.7,340 192.3,339.2 200.7,340 209,341.7 209,355.8 200.7,355.8 194,355 187.3,352.5 183.2,348.3"/>
<polygon fill="#0A8CA8" points="166.5,366.7 169,364.2 175.7,364.2 179.8,366.7 179.8,370.8 175.7,373.3 169.8,373 166.5,370"/>
<polygon fill="#0A8CA8" points="193.2,364.2 200.7,364.2 200.7,369.2 193.2,369.2"/>
<polygon fill="#005AE6" points="151.5,340.8 153.2,340.8 153.2,342.5 151.5,342.5"/>
<polygon fill="#005AE6" points="170.7,337 172.7,337 172.7,338.7 170.7,338.7"/>
<polygon fill="#96F0FF" points="196.5,335.8 204,335 209,335.8 209,338 197.3,338"/>
</g>
<clipPath id="c15"><rect x="104" y="378" width="104" height="108"/></clipPath>
<g clip-path="url(#c15)" shape-rendering="crispEdges">
<rect x="104" y="378" width="104" height="108" fill="#28D2FF"/>
<polygon fill="#3CFA96" points="179,394.7 182.3,388 187.3,383 194,377.2 209,377.2 209,428 204,429.7 199,426.3 194,419.7 187.3,416.3 182.3,411.3 180.7,403"/>
<polygon fill="#28D2FF" points="194,399.7 197.3,399.7 197.3,404.7 194,404.7"/>
<polygon fill="#28D2FF" points="197.3,419.7 202.3,418 205.7,423 200.7,426.3"/>
<polygon fill="#96F0FF" points="163.2,383 170.7,381.3 177.3,384.7 179,391.3 174,396.3 167.3,398 162.3,394.7"/>
<polygon fill="#0A8CA8" points="103.2,396.3 112.3,393 120.7,391.3 132.3,392.2 134.8,398 136.5,393 144,392.2 147.3,394.7 148.2,403 154,404.7 154,408.8 149,409.7 148.2,419.7 149,424.7 145.7,433 143.2,438 137.3,438.8 135.7,444.7 137.3,448 133.2,449.7 132.3,458 135.7,461.3 132.3,466.3 130.7,474.7 131.5,481.3 134,488 117.3,488 117.3,473 119.8,462.2 126.5,461.3 126.5,436.3 120.7,433 119.8,418 116.5,411.3 116.5,400.5 103.2,400.5"/>
<polygon fill="#0A8CA8" points="154,431.3 160.7,426.3 167.3,423 174,424.7 179,422.2 187.3,423 187.3,431.3 184,436.3 179,439.7 175.7,444.7 175.7,454.7 177.3,464.7 175.7,478 177.3,483 175.7,488 169,488 167.3,478 162.3,471.3 159,461.3 157.3,455.5 144,455.5 145.7,448 150.7,444.7 157.3,443.8 162.3,439.7 159,434.7"/>
<polygon fill="#0A8CA8" points="168.2,396.3 172.3,396.3 172.3,401.3 168.2,401.3"/>
<polygon fill="#96F0FF" points="130.7,449.7 133.2,448 137.3,448 139.8,451.3 137.3,456.3 132.3,456.3"/>
<polygon fill="#FFFFFF" points="103.2,400.5 116.5,400.5 116.5,411.3 119.8,418 120.7,433 126.5,436.3 126.5,461.3 119.8,462.2 117.3,473 117.3,488 103.2,488"/>
<polygon fill="#96F0FF" points="137.3,463 144,460.5 150.7,461.3 154,464.7 159,468 160.7,474.7 155.7,478 149,479.7 142.3,478 137.3,474.7 135.7,468"/>
<polygon fill="#28D2FF" points="146.5,464.7 154,465.5 155.7,471.3 150.7,474.7 146.5,471.3"/>
<polygon fill="#3CFA96" points="141.5,462.2 144.8,462.2 144.8,466.3 141.5,466.3"/>
<polygon fill="#3CFA96" points="144,476.3 147.3,476.3 147.3,479.7 144,479.7"/>
<polygon fill="#3CFA96" points="144,455.5 147,455.5 147,458 144,458"/>
<polygon fill="#005AE6" points="155.7,419.7 159,415.5 164,410.5 168.2,405.5 170.7,402.2 173.2,398.8 174,401.3 171.5,406.3 169,410.5 164.8,413.8 160.7,418.8 157.3,423"/>
<polygon fill="#005AE6" points="138.2,446.3 139.8,443 143.2,439.7 144.8,441.3 143.2,445.5 140.7,448.8 138.7,449.7"/>
<polygon fill="#005AE6" points="130.7,471.3 133.2,466.3 135.7,463 137.3,464.7 134.8,469.7 133.2,474.7 131.5,476.3"/>
<polygon fill="#005AE6" points="175.7,444.7 179,439.7 184,436.3 189,434.7 194,435.5 199,431.3 204,429.7 209,428 209,471.3 204,473 202.3,478 194,478.8 187.3,478 182.3,479.7 177.3,483 175.7,478 177.3,464.7 175.7,454.7"/>
<polygon fill="#005AE6" points="185.7,412.2 190.7,410.5 195.7,408.8 200.7,410.5 205.7,412.2 204,414.7 200.7,415.5 199.8,418.8 195.7,416.3 190.7,415.5 186.5,414.7"/>
<polygon fill="#005AE6" points="149,437.2 153.2,436.3 152.3,440.5 149,441"/>
<polygon fill="#005AE6" points="151.5,468 157.3,467.2 158.2,469.7 152.3,470.5"/>
<polygon fill="#005AE6" points="163.2,449.7 167.3,446.3 168.2,448 164.8,451.3"/>
<polygon fill="#FFFFFF" points="184,480.5 192.3,479.7 197.3,478 209,478 209,488 182.3,488"/>
<polygon fill="#005AE6" points="193.2,479.7 195.7,478.8 196.5,484.7 194,485.5"/>
</g>
<clipPath id="c16"><rect x="124" y="228" width="104" height="108"/></clipPath>
<g clip-path="url(#c16)" shape-rendering="crispEdges">
<rect x="124" y="228" width="104" height="108" fill="#FFF582"/>
<polygon fill="#AAFFD2" points="123.2,286.3 229,286.3 229,338 123.2,338"/>
<polygon fill="#FFB4AA" points="123.2,272.2 129.8,275.5 132.3,273 134.8,268 135.7,261.3 134,255.5 132.3,251.3 139,249.7 144,253 152.3,253 157.3,251.3 162.3,248.8 169,248 174,246.3 177,250.5 177.3,257.2 175.7,261.3 179,265.5 183.2,268 187.3,263.8 188.2,254.7 190.7,253 197.3,251.3 200.7,253 210.7,253 217.3,258 222.3,261.3 226.5,259.7 229,260.5 229,274.7 222.3,276.3 217.3,278 212.3,284.7 207.3,288 204,294.7 199,298 194,294.7 187.3,296.3 182.3,291.3 174,288 169,289.7 162.3,284.7 157.3,283 149,281.3 142.3,283 135.7,286.3 129,288 123.2,286.3"/>
<polygon fill="#FFF582" points="187.3,263.8 190.7,265.5 194,268 195.7,273 190.7,276.3 187.3,281.3 180.7,283 179,285.5 174,287.2 170.7,284.7 174,279.7 179,273 183.2,268"/>
<polygon fill="#F0780A" points="143.2,258 149,254.7 157.3,253 159.8,256.3 164,257.2 169,255.5 170.7,258 167.3,263 164,266.3 170.7,267.2 175.7,268 179,271.3 175.7,276.3 172.3,279.7 167.3,283 160.7,283 157.3,280.5 152.3,278 147.3,275.5 142.3,278 137.3,281.3 132.3,281.3 127.3,283 123.2,281.3 123.2,278 130.7,276.3 135.7,273 140.7,269.7 145.7,268 149,263.8 147.3,260.5"/>
<polygon fill="#FF9628" points="123.2,278 130.7,276.3 137.3,278 135.7,283.8 129,286.3 123.2,286.3"/>
<polygon fill="#FFB4AA" points="149,278 157.3,280.5 160.7,283 154,283.8 149,281.3"/>
<polygon fill="#F0780A" points="136.5,288.8 142.3,284.7 149,280.5 155.7,281.3 162.3,284.7 168.2,286.3 169,291.3 165.7,294.7 159.8,298 156.5,303 159,309.7 159.8,316.3 155.7,311.3 149,308 144,301.3 140.7,296.3 138.2,292.2"/>
<polygon fill="#FF9628" points="139.8,306.3 154,306.3 154.8,309.7 140.7,309.7"/>
<polygon fill="#FF9628" points="166.5,306.3 170.7,306.3 170.7,311.3 166.5,311.3"/>
<polygon fill="#F0780A" points="195.7,251.3 200.7,253 202.3,257.2 199,261.3 198.2,267.2 195.7,263.8 194.8,258"/>
<polygon fill="#F0780A" points="210.7,274.7 214.8,272.2 217.3,268 224,267.2 229,268 229,284.7 224,285.5 219.8,286.3 214.8,285.5 210.7,288 209.8,281.3"/>
<polygon fill="#FF9628" points="185.7,294.7 190.7,292.2 199,293.8 204,294.7 202.3,301.3 197.3,303 195.7,308 190.7,311.3 189.8,304.7 187.3,301.3"/>
<polygon fill="#F0780A" points="123.2,292.2 126.5,293 127.3,297.2 123.2,298"/>
<polygon fill="#FF9628" points="123.2,301.3 127.3,301.3 127.3,305.5 123.2,305.5"/>
<polygon fill="#AAFFD2" points="124.5,302.7 126.3,302.7 126.3,304.3 124.5,304.3"/>
<polygon fill="#0046AA" points="123.2,248.8 129,246.3 134,247.2 139,243.8 145.7,241.3 154,238.8 162.3,238.8 167.3,241.3 173.2,242.2 174,246.3 169,248 162.3,248.8 157.3,251.3 152.3,253 144,253 139,249.7 134,248.8 132.3,251.3 134,255.5 135.7,261.3 134.8,268 132.3,273 129.8,275.5 126.5,273 123.2,271.3"/>
<polygon fill="#FFF582" points="125.3,253 127,253 127,257.2 125.3,257.2"/>
<polygon fill="#0046AA" points="195.7,245.5 198.2,242.2 200.7,245.5 207.3,244.7 209.8,242.2 210.7,248.8 207.3,250.5 204,248.8 201.5,251.3 199.8,246.3 196.5,246.7"/>
<polygon fill="#0046AA" points="214,249.7 216.5,243.8 220.7,239.7 224,235.5 229,234.7 229,259.7 225.7,260.5 222.3,261.3 219,263.8 214.8,260.5 213.2,254.7"/>
<polygon fill="#0A6EFF" points="218.2,253 220.7,252.2 224,257.2 222.3,258.8 219,256.3"/>
<polygon fill="#005AE6" points="201.5,282.2 206.5,281.7 206.5,284.3 201.5,284.7"/>
<polygon fill="#005AE6" points="165.7,262.2 167.7,258.8 169,259.7 167,263.8"/>
<polygon fill="#005AE6" points="154.8,288 157.3,288 157.3,290 154.8,290"/>
<polygon fill="#005AE6" points="137.3,301.3 139,301.3 139,303 137.3,303"/>
<polygon fill="#005AE6" points="157.3,320 159,320 159,322.2 157.3,322.2"/>
<polygon fill="#3CFA96" points="163.2,311.3 167.3,309.7 172.3,311.3 173.2,318 171.5,326.3 165.7,328 163.2,323"/>
<polygon fill="#3CFA96" points="206.5,288 210.7,286.3 214,291.3 214,301.3 210.7,303 207.3,299.7"/>
<polygon fill="#3CFA96" points="192.3,318 197.3,316.3 202.3,318.8 204,323 199,324.7 194,323"/>
<polygon fill="#3CFA96" points="212.3,311.3 219,313 219.8,318 214,318.8"/>
<polygon fill="#96F0FF" points="123.2,321.3 130.7,319.7 137.3,321.3 145.7,323 154,325.5 159,328 162.3,331.3 162.3,338 123.2,338"/>
<polygon fill="#96F0FF" points="184,326.3 190.7,324.7 195.7,328 197.3,338 182.3,338"/>
<polygon fill="#96F0FF" points="214,304.7 220.7,303.8 224,308 229,309.7 229,338 217.3,338 219,328 214,324.7 212.3,314.7"/>
<polygon fill="#28D2FF" points="224,313 229,312.2 229,318.8 224.8,318"/>
<polygon fill="#28D2FF" points="223.2,324.7 229,323.8 229,331.3 224,330.5"/>
<polygon fill="#28D2FF" points="123.2,328 129,326.3 130.7,329.7 127.3,332.2 123.2,332.2"/>
<polygon fill="#3CFA96" points="129,332.2 135.7,331.3 142.3,333 142.3,338 129,338"/>
</g>
<clipPath id="c17"><rect x="208" y="378" width="104" height="108"/></clipPath>
<g clip-path="url(#c17)" shape-rendering="crispEdges">
<rect x="208" y="378" width="104" height="108" fill="#3CFA96"/>
<polygon fill="#28D2FF" points="263,431.3 269.7,428 274.7,431.3 275.5,439.7 273,444.7 266.3,443.8 263,439.7"/>
<polygon fill="#28D2FF" points="256.3,448 263,444.7 269.7,446.3 268,451.3 259.7,452.2"/>
<polygon fill="#28D2FF" points="207.2,459.7 213,458 223,461.3 228,466.3 226.3,473 223,478 214.7,479.7 207.2,478"/>
<polygon fill="#28D2FF" points="223,419.7 226.3,418 229.7,424.7 231.3,433 228,441.3 224.7,438 218,428 219.7,423"/>
<polygon fill="#28D2FF" points="226.3,448 241.3,447.2 241.3,451.3 229.7,452.2"/>
<polygon fill="#96F0FF" points="252.2,435.5 258,434.7 258.8,439.7 253,440.5"/>
<polygon fill="#0A8CA8" points="207.2,419.7 213,420.5 214.7,426.3 213,433 218,432.2 224.7,435.5 224.7,441.3 221.3,444.7 224.7,448 229.7,449.7 241.3,449.7 241.3,455.5 233,456 226.3,456.3 221.3,461.3 216.3,459.7 213,454.7 211.3,444.7 210.5,434.7 207.2,433.8"/>
<polygon fill="#FFF582" points="272.2,416.3 274.7,411.3 281.3,408 286.3,405.5 291.3,408 294.7,413.8 298.8,419.7 303.8,425.5 308,429.7 313,431.3 313,464.7 308,463 301.3,464.7 294.7,463 291.3,471.3 289.7,478 288,488 223,488 224.7,478 228,471.3 229.7,461.3 233,456.3 241.3,455.5 251.3,453 254.7,451.3 256.3,458 258,463 264.7,463.8 274.7,461.3 281.3,458 286.3,451.3 289.7,444.7 288,439.7 281.3,436.3 274.7,433 273.8,421.3"/>
<polygon fill="#FFF582" points="252.2,412.2 258,413 261.3,419.7 263,425.5 258,426.3 254.7,421.3 252.2,418"/>
<polygon fill="#3CFA96" points="307.2,433 313,432.2 313,444.7 308,441.3"/>
<polygon fill="#3CFA96" points="301.3,461.3 308,459.7 313,461.3 313,466.3 304.7,466.3"/>
<polygon fill="#3CFA96" points="238,482.2 248,482.2 248,488 238,488"/>
<polygon fill="#3CFA96" points="243,456.3 251.3,453.8 253,461.3 249.7,468 245.5,464.7"/>
<polygon fill="#96F0FF" points="275.5,438.8 281.3,437.2 288,438 289.7,442.2 283,443.8 276.3,443"/>
<polygon fill="#96F0FF" points="288,411.3 294.7,410.5 296.3,415.5 290.5,417.2"/>
<polygon fill="#96F0FF" points="269.7,457.2 281.3,458 281.3,461.3 271.3,461.3"/>
<polygon fill="#96F0FF" points="273.8,473 277.2,473 277.2,477.2 273.8,477.2"/>
<polygon fill="#FFFFFF" points="218,377.2 224.7,386.3 228.8,388.8 233,394.7 238,397.2 243.8,399.7 246.3,403 247.2,409.7 252.2,412.2 258,413 261.3,419.7 263,425.5 266.3,428 271.3,425.5 273.8,421.3 272.2,416.3 274.7,411.3 281.3,408 286.3,405.5 291.3,408 294.7,413.8 298.8,419.7 303.8,425.5 308,429.7 313,431.3 313,377.2"/>
<polygon fill="#3CFA96" points="270.5,399.7 279.7,398.8 279.7,405.5 273.8,407.2 270.5,404.7"/>
<polygon fill="#FFFFFF" points="285,456.3 286.7,456.3 286.3,478 285,488 283,488 283.8,471.3"/>
<polygon fill="#FF9628" points="226.3,411.3 229.7,408 236.3,408 243.8,408.8 245.5,413.8 249.7,415.5 251.3,418 246.3,419.7 242.2,422.2 238.8,421.3 234.7,424.7 233,428 229.7,426.3 228.8,419.7 225.5,418"/>
<polygon fill="#F0780A" points="233,428 234.7,424.7 238.8,423.8 243.8,426.3 244.7,429.7 240.5,432.2 236.3,433 233.8,435.5"/>
<polygon fill="#F0780A" points="220.5,386.3 224.7,387.2 228,391.3 226.3,393.8 223,392.2"/>
<polygon fill="#FFB4AA" points="224.7,393.8 228,392.2 233,395.5 237.2,398 243,400.5 246.3,403.8 245.5,407.2 239.7,406.3 234.7,403 229.7,399.7 225.5,397.2"/>
<polygon fill="#FFB4AA" points="233,429.7 236.3,429.7 236.3,433 233,433"/>
<polygon fill="#F0780A" points="294.7,463 301.3,464.7 306.3,468.8 313,468 313,488 288,488 289.7,478 291.3,471.3"/>
<polygon fill="#FF9628" points="291.3,471.3 298,473.8 301.3,478 298,488 288,488 289.7,478"/>
<polygon fill="#AAFFD2" points="298.8,462.2 304.7,462.2 304.7,465.5 298.8,465.5"/>
<polygon fill="#005AE6" points="207.2,433.8 210.5,434.7 211.3,444.7 213,454.7 207.2,456.3"/>
<polygon fill="#005AE6" points="213,436.3 216.3,435.5 216.3,440.5 221.3,439.7 224.7,441.3 223.8,444.7 218,445.5 213.8,443.8"/>
<polygon fill="#005AE6" points="241.3,377.2 248,377.2 248.8,383 251.3,388 255.5,393.8 256.3,398.8 253.8,400.5 251.3,396.3 247.2,391.3 243,389.7 241.3,384.7"/>
<polygon fill="#005AE6" points="252.2,413 258,413 258.8,418 261.3,423 262.2,426.3 258,425.5 253.8,422.2 250.5,419.7"/>
<polygon fill="#005AE6" points="242.2,422.2 246.3,421.3 246.3,425.5 242.2,426.3"/>
<polygon fill="#005AE6" points="243.8,443.8 245.5,443.8 245.5,448 243.8,448"/>
<polygon fill="#005AE6" points="248,449.7 250.5,449.7 250.5,452.2 248,452.2"/>
<polygon fill="#005AE6" points="264.7,450.5 269.7,450.5 269.7,453 264.7,453"/>
<polygon fill="#005AE6" points="242.7,473 245.5,473 245.5,479.7 242.7,479.7"/>
<polygon fill="#005AE6" points="246.7,466.3 248.8,466.3 248.8,470.5 246.7,470.5"/>
<polygon fill="#005AE6" points="260.5,478 263,478 263,480.5 260.5,480.5"/>
<polygon fill="#005AE6" points="289.3,467.2 291,467.2 291,469.7 289.3,469.7"/>
<polygon fill="#005AE6" points="209.7,412.2 215.5,412.2 215.5,413.8 209.7,413.8"/>
<polygon fill="#005AE6" points="255.5,427.2 257.7,427.2 257.7,429.3 255.5,429.3"/>
</g>
<clipPath id="c18"><rect x="228" y="228" width="104" height="108"/></clipPath>
<g clip-path="url(#c18)" shape-rendering="crispEdges">
<rect x="228" y="228" width="104" height="108" fill="#FFFFFF"/>
<polygon fill="#FFF582" points="269.7,227.2 308,227.2 308.8,238 310.5,248 313,258 314.7,268 315.5,278 316.3,285.5 311.3,294.7 306.3,299.7 301.3,298 294.7,291.3 286.3,288 281.3,284.7 276.3,279.7 273,271.3 270.5,264.7 271.7,258 273,253 270.5,244.7 269.7,236.3"/>
<polygon fill="#FFF582" points="324.7,285.5 333,285.5 333,288.3 324.7,288.3"/>
<polygon fill="#FFB4AA" points="248,259.7 268,259.7 273,273 253,273"/>
<polygon fill="#FF9628" points="291.3,301.3 308,298.8 308,316.3 294.7,314.7"/>
<polygon fill="#AAFFD2" points="227.2,261.3 253,269.7 278,298 294.7,306.3 304.7,314.7 321.3,321.3 321.3,338 227.2,338"/>
<polygon fill="#FFB4AA" points="227.2,264.7 227.2,248 234.7,243 241.3,238 246.3,233 248.8,227.2 269.7,227.2 269.7,236.3 270.5,244.7 273,253 271.7,258 270.5,264.7 273,271.3 276.3,279.7 269.7,278 265.5,268 261.3,266.3 258,261.3 254.7,256.3 251.3,249.7 248,248 244.7,249.7 241.3,253 238,258 234.7,261.3 231.3,263.8"/>
<polygon fill="#0046AA" points="227.2,233.8 234.7,233 243.8,233.8 245.5,228.8 248,227.2 244.7,234.7 239.7,240.5 234.7,246.3 229.7,253 227.2,254.7"/>
<polygon fill="#AAFFD2" points="227.2,263.8 231.3,263.8 234.7,261.3 238,258.8 239.7,261.3 244.7,268 249.7,271.3 253,273 256.3,278 254.7,283 249.7,286.3 248,290.5 244.7,291.3 239.7,294.7 236.3,298 233,301.3 227.2,303"/>
<polygon fill="#AAFFD2" points="246.3,250.5 250.5,249.7 255.5,257.2 258.8,263 257.2,268 251.3,268.8 248,264.7 247.2,258"/>
<polygon fill="#AAFFD2" points="263.8,227.2 269.7,227.2 269.7,233 265.5,233.8"/>
<polygon fill="#96F0FF" points="227.2,303 233,301.3 236.3,298 244.7,294.7 249.7,293 254.7,291.3 261.3,292.2 268,294.7 271.3,299.7 276.3,304.7 281.3,309.7 284.7,314.7 281.3,318.8 278,324.7 274.7,331.3 271.3,338 227.2,338"/>
<polygon fill="#28D2FF" points="227.2,313 234.7,311.3 241.3,314.7 244.7,321.3 249.7,323 254.7,319.7 261.3,318 266.3,321.3 269.7,326.3 268,338 227.2,338"/>
<polygon fill="#28D2FF" points="244.7,308 251.3,306.3 253,311.3 248,314.7"/>
<polygon fill="#3CFA96" points="273,311.3 278,306.3 283,308 286.3,313 284.7,318 279.7,319.7 274.7,321.3 271.3,318"/>
<polygon fill="#3CFA96" points="261.3,266.3 265.5,266.3 265.5,269.7 261.3,269.7"/>
<polygon fill="#F0780A" points="253,233.8 258,230.5 263,231.3 265.5,235.5 263.8,240.5 259.7,243.8 255.5,243.8 253,239.7"/>
<polygon fill="#F0780A" points="239.7,253 244.7,249.7 248,248 251.3,250.5 248.8,254.7 247.2,258 248,264.7 249.7,269.7 246.3,268.8 243,263.8 239.7,259.7"/>
<polygon fill="#F0780A" points="253,271.3 258,268.8 263,271.3 268,268 272.2,269.7 275.5,278 279.7,283 284.7,288 289.7,294.7 293,301.3 294.7,306.3 291.3,311.3 287.2,313 283,306.3 278,301.3 273,296.3 268,293 263.8,289.7 259.7,288 254.7,288.8 248,290.5 249.7,286.3 254.7,283 256.3,278"/>
<polygon fill="#FFB4AA" points="275.5,278 279.7,283 284.7,288 281.3,284.7 276.3,279.7"/>
<polygon fill="#3CFA96" points="283,297.2 288,297.2 288,300.5 283,300.5"/>
<polygon fill="#AAFFD2" points="301.3,328 306.3,323.8 311.3,326.3 318,324.7 321.3,321.3 321.3,338 283,338 284.7,329.7 294.7,329.7"/>
<polygon fill="#FF9628" points="304.7,299.7 311.3,294.7 316.3,288 321.3,287.2 333,288 333,311.3 324.7,313 323,321.3 318,324.7 311.3,326.3 306.3,323 304.7,318 306.3,313 303,308 301.3,303"/>
<polygon fill="#F0780A" points="309.7,306.3 316.3,305.5 322.2,309.7 323,318 318,321.3 311.3,318.8 308,313"/>
<polygon fill="#FF9628" points="283,321.3 289.7,318.8 294.7,316.3 298,314.7 304.7,314.7 304.7,318 299.7,321.3 294.7,326.3 288,328 283,326.3"/>
<polygon fill="#AAFFD2" points="318,293 322.2,293 322.2,297.2 318,297.2"/>
<polygon fill="#96F0FF" points="296.3,308 301.3,306.3 305.5,308 303.8,312.2 298,313"/>
<polygon fill="#FFF582" points="296.3,319.7 301.3,317.2 306.3,318 307.2,324.7 303,328 298,327.2"/>
<polygon fill="#FFB4AA" points="289.7,318.8 294.7,316.3 295.5,321.3 292.2,324.7 288.8,323.8"/>
<polygon fill="#005AE6" points="259.7,244.7 263.8,243.8 269.7,244.7 271.7,242.2 272.7,249.7 271.3,255.5 267.2,256.3 263,253 259.7,249.7"/>
<polygon fill="#005AE6" points="280.5,273 285.5,272.2 290.5,273.8 293.8,277.2 293.8,281.3 289.7,280.5 285.5,278.8 280.5,278"/>
<polygon fill="#005AE6" points="310.5,277.2 315.5,276.3 314.7,281.3 312.2,282.2"/>
<polygon fill="#005AE6" points="287.2,289.7 291.3,291.3 298,294.7 303.8,298 303.8,303 298,304.7 293.8,301.3 290.5,296.3 286.3,292.2"/>
<polygon fill="#005AE6" points="262.2,287.2 265.5,285.5 263.8,290.5 261.3,292.2"/>
<polygon fill="#005AE6" points="281.3,318.8 288,316.3 288.8,319.7 283.8,323 281.3,326.3 278,324.7"/>
<polygon fill="#005AE6" points="287.2,309.7 291,309.7 291,313.8 287.2,313.8"/>
<polygon fill="#005AE6" points="291.3,303.8 293.8,303.8 293.8,307.2 291.3,307.2"/>
<polygon fill="#005AE6" points="320.5,227.2 323,227.2 323,230.5 320.5,230.5"/>
<polygon fill="#005AE6" points="293.8,324.7 296.7,324.7 296.7,328 293.8,328"/>
</g>
<clipPath id="c19"><rect x="260" y="440" width="104" height="108"/></clipPath>
<g clip-path="url(#c19)" shape-rendering="crispEdges">
<rect x="260" y="440" width="104" height="108" fill="#FFFFFF"/>
<polygon fill="#FFF582" points="259.2,439.2 352.5,439.2 343.3,448.3 338.3,453.3 333.3,461.7 326.7,468.3 318.3,475.8 310,481.7 308.3,488.3 304.2,495 300,503.3 295.8,510 294.2,513.3 292.5,520 289.2,528.3 287.5,533 280.8,532.5 280.8,526.7 276.7,522.5 269.2,518.3 259.2,515.8"/>
<polygon fill="#3CFA96" points="259.2,439.2 291.7,439.2 285,446.7 280,453.3 275,458.3 266.7,461.7 259.2,463.3"/>
<polygon fill="#3CFA96" points="322.5,439.2 352.5,439.2 343.3,448.3 338.3,453.3 333.3,461.7 330,460.8 326.7,456.7 323.3,451.7"/>
<polygon fill="#3CFA96" points="298.3,461.7 305,458.3 315,457.5 323.3,456.7 326.7,460 330,462.5 326.7,468.3 318.3,471.7 310,470 303.3,468.3 299.2,466.7"/>
<polygon fill="#3CFA96" points="287.5,503.3 295.8,510 300,503.3 304.2,495 307.5,489.2 305,481.7 301.7,483.3 300.8,491.7 298.3,497.5 293.3,500.8"/>
<polygon fill="#3CFA96" points="259.2,481.7 265,480.8 270,483.3 270,490 266.7,495 259.2,496.7"/>
<polygon fill="#28D2FF" points="259.2,443.3 270,441.7 276.7,446.7 270,451.7 259.2,453.3"/>
<polygon fill="#96F0FF" points="275,439.2 288.3,439.2 285,443.3 276.7,443.3"/>
<polygon fill="#28D2FF" points="259.2,496.7 266.7,495 270,490 276.7,495 283.3,501.7 290,506.7 295.8,510 294.2,513.3 292.5,520 289.2,528.3 287.5,533 280.8,532.5 280.8,526.7 276.7,522.5 269.2,518.3 259.2,515.8"/>
<polygon fill="#28D2FF" points="280,493.3 288.3,492.5 289.2,498.3 285,500.8 280.8,498.3"/>
<polygon fill="#96F0FF" points="300,461.7 308.3,460 315,461.7 313.3,467.5 305,468.3 300.8,465.8"/>
<polygon fill="#96F0FF" points="274.2,473.3 277.5,473.3 277.5,477.5 274.2,477.5"/>
<polygon fill="#96F0FF" points="270,481.7 276.7,481.7 276.7,485.8 270,485.8"/>
<polygon fill="#96F0FF" points="326.7,439.2 333.3,439.2 333.3,442 326.7,442"/>
<polygon fill="#0A8CA8" points="259.2,501.7 265,502.5 266.7,506.7 265.8,513.3 259.2,514.2"/>
<polygon fill="#0A8CA8" points="270,510 274.2,510 274.2,514.2 270,514.2"/>
<polygon fill="#FFF582" points="261.7,515 268.3,513.3 275.8,515 276.7,520 270,519.2 261.7,516.7"/>
<polygon fill="#F0780A" points="294.2,465 295.8,463.3 299.2,467.5 303.3,469.2 310,470 316.7,469.2 317.5,473.3 313.3,478.3 310,481.7 308.3,488.3 305,481.7 302.5,486.7 300,490 298.3,496.7 293.3,500 289.2,500 288.3,493.3 280.8,496.7 280,490 280.8,481.7 288.3,480 290,473.3 293.3,470"/>
<polygon fill="#FF9628" points="289.2,480 293.3,472.5 299.2,473.3 301.7,478.3 300,485 293.3,488.3 289.2,486.7"/>
<polygon fill="#F0780A" points="328.3,455.8 335,453.3 338.3,453.3 333.3,461.7 329.2,461.7"/>
<polygon fill="#FF9628" points="318.3,462.5 322.5,460.8 324.2,465 320,466.7"/>
<polygon fill="#3CFA96" points="301.7,481.7 305,481.7 305,486.7 301.7,486.7"/>
<polygon fill="#3CFA96" points="297.5,491.7 301.7,491.7 301.7,495 297.5,495"/>
<polygon fill="#28D2FF" points="295.8,486.7 299.2,486.7 299.2,490 295.8,490"/>
<polygon fill="#28D2FF" points="281.7,495 288.3,493.3 288.7,498.3 285,500.3 281.3,498.3"/>
<polygon fill="#FFFFFF" points="285,456.7 287.5,455.8 288.3,461.7 286.7,473.3 285,483.3 283.3,486.7 282.5,481.7 284.2,470"/>
<polygon fill="#FFFFFF" points="285.8,486.7 292.5,486.7 292.5,490 285.8,490"/>
<polygon fill="#005AE6" points="289.2,466.7 291.2,466.7 291.2,469.7 289.2,469.7"/>
<polygon fill="#005AE6" points="260.8,478.3 263.3,478.3 263.3,480.8 260.8,480.8"/>
<polygon fill="#005AE6" points="265,450.8 269.2,450.8 269.2,453 265,453"/>
<polygon fill="#005AE6" points="263.3,495.8 266.7,495 265,500"/>
<polygon fill="#FFB4AA" points="340,445 342.5,445 342.5,448.3 340,448.3"/>
<polygon fill="#000000" points="300.8,515.8 304.2,515 304.7,520 302.5,525 300.5,523.3"/>
<polygon fill="#28D2FF" points="294.2,530.8 295.8,530 298.3,534.2 300,539.2 297.5,540 295,536.7"/>
<polygon fill="#000000" points="317.5,470.8 322.5,468.3 326.7,468.3 321.7,473.3 318.3,475.8"/>
<polygon fill="#000000" points="333.3,455.8 338.3,451.7 341.7,450 338.3,454.2 335,457.5"/>
<polygon fill="#000000" points="299.7,500.8 302.5,499.2 303,502.5 300,504.2"/>
</g>
<g clip-path="url(#c0)" fill="none" stroke-linejoin="round" shape-rendering="crispEdges">
<polyline stroke="#000000" stroke-width="1" points="69.5,72 69.5,122 54.5,122 54.5,165"/>
<polyline stroke="#000000" stroke-width="1" points="69.5,91.5 160,91.5"/>
<polyline stroke="#000000" stroke-width="1" points="7,106.2 20,112.5 37.5,122 54,130.2"/>
</g>
<g clip-path="url(#c1)" fill="none" stroke-linejoin="round" shape-rendering="crispEdges">
<polyline stroke="#000000" stroke-width="1" points="54.5,159.5 54.5,189.5 47.5,190 40,192 37.5,195.8 37,199.5 33.8,203.2 32.5,207 29.5,208.2 30,212 27.5,215.8 25,219.5 26.2,224.5 23.8,228.2 25,232 21.2,234.5 20.5,237 23.8,239.5 27.5,239.5 29.5,243.2 31.2,248.2 32,253.2 33.8,257 37.5,260.8 38,264 35,265 30,264.5 25,265.8 21.2,267.5 18.8,272 17.5,277 12.5,280 10,283.2 7,285.2"/>
<polyline stroke="#000000" stroke-width="1" points="30,264.5 35,267 40,270.8 45,275.8 47.5,280.8 49.2,285.8 47.5,292 45.5,295.8 47.5,299 53.8,300.8 58.8,301.5 56.2,304.5 60,308.2 65.5,310.8 70,314.5 73.8,319.5 78,324.5"/>
<polyline stroke="#000000" stroke-width="1" points="58.8,301.5 62.5,297 64.5,289.5 66.2,284.5 68.8,279.5 71.2,276.5 77.5,275.8 83.8,274.5 85,278.2 87,282 90,285.8 96.2,287.5 102.5,286.5 107.5,285 112.5,285.8 116.2,289 120,290.8 126.2,290.8 130,288.2 135,285.8 140,282 145,278.2 150,277 157.5,280"/>
</g>
<g clip-path="url(#c2)" fill="none" stroke-linejoin="round" shape-rendering="crispEdges">
<polyline stroke="#000000" stroke-width="1" points="76.2,322.8 83.8,327.8 88.8,332.8 92.5,335.2 93,340.2 96.2,342.8 100,345.2 103.8,348.5 106.2,351.5 107,356 110,360.2 113.8,364 118.8,367.8 123.8,370.2 127.5,368.5 130,366.5 133.8,369 137.5,370.2 140,366.5 142.5,364.5 146.2,367.8 150,372.8 153.8,376.5 157.5,378.2"/>
<polyline stroke="#000000" stroke-width="1" points="7,369.5 11.2,371 17.5,370.5 23.8,372 30,373 32.5,370.2 33.8,365.2 37.5,362.8 41.2,364 46.2,363.5 52.5,361.5 58.8,359 61.2,357.8 66.2,360.2 73.8,359 76.2,355.2 78.8,353.5 82.5,356 87.5,355.2 93.8,357.8 100,357.8 103.8,356 107,356"/>
<polyline stroke="#000000" stroke-width="1" points="157.5,417 151.2,422.8 148.8,429 146.2,435.2 143.8,442.8 142.5,451.5 143,460.2 146.2,460.2 151.2,456.5 157.5,454.8"/>
<polyline stroke="#000000" stroke-width="1" points="143,460.2 137.5,466.5 132.5,474 130.5,480.2 132.5,484 135.5,487.8"/>
<polyline stroke="#000000" stroke-width="1" points="133.8,481 142.5,482.8 148.8,481.5 150,476.5 157.5,473.5"/>
</g>
<g clip-path="url(#c3)" fill="none" stroke-linejoin="round" shape-rendering="crispEdges">
<polyline stroke="#000000" stroke-width="1" points="7,553 20,553 20,558.5 18.8,563.5 21.2,571 20.5,578.5 20,586 22.5,591 26.2,596 27,603.5 26.2,609.8 27,614.8 31.2,613.5 37.5,612.2 43.8,611 48.8,612.2 53.8,610.5 56.2,613.5 60,614.8 60.8,618.5 66.2,617.2 73.8,615.5 75,622.2 80,624.8 86.2,626 95,627.2 101.2,626 102.5,622.2 105,621 107.5,624.8 108.8,628.5"/>
<polyline stroke="#000000" stroke-width="1" points="53.8,610.5 54.5,618.5 53.8,628.5"/>
<polyline stroke="#000000" stroke-width="1" points="136.2,484.8 137,496 138.8,506 141.2,516 142,526 143,534.8 147.5,541 152.5,547.2 157.5,553"/>
<polyline stroke="#000000" stroke-width="1" points="138.8,509 145,509.8 150,507.2 153,501 157.5,493.5"/>
<polyline stroke="#000000" stroke-width="1" points="157.5,568.8 145,570.5 136.2,572.2 131.2,574.8 128.8,581 127,588.5 127.5,596 126.2,603.5 127.5,608.5 123.8,616 122.5,622.2 125,626 130,628"/>
</g>
<g clip-path="url(#c4)" fill="none" stroke-linejoin="round" shape-rendering="crispEdges">
<polyline stroke="#000000" stroke-width="1" points="153.5,91.5 257.2,91.5"/>
<polyline stroke="#000000" stroke-width="1" points="199.8,91.5 202.2,93.8 206,95.5 209.8,95 213,92 214,88.8 217.2,87 221.5,85.5 224.8,81.2 227.2,78 231,76.5 235.5,73.5 238,72 239.8,75 242.2,78 245.5,80.5 249,83.8 254,87.5 257.2,90 258,96.2 261,101.2 263,106.2 263.5,117.5 264,127.5 265.5,136.2 267.2,142 271.5,143.8 276,148 280.5,150.5 284,153.8 286.5,158 289,163"/>
<polyline stroke="#000000" stroke-width="1" points="245.5,80.5 248,76.5"/>
<polyline stroke="#000000" stroke-width="1.5" points="261,101.2 264,105 263,107.5"/>
<polyline stroke="#000000" stroke-width="1" points="268,135.2 271.5,135.2"/>
<polyline stroke="#000000" stroke-width="1.5" points="280.5,150.5 284,152 286,156.2"/>
<polyline stroke="#000000" stroke-width="1" points="273.5,161.2 279.8,160 281,157"/>
</g>
<g clip-path="url(#c5)" fill="none" stroke-linejoin="round" shape-rendering="crispEdges">
<polyline stroke="#000000" stroke-width="1" points="288.5,160.8 292.2,172 296,183.2 299.8,190.8 303.5,195.8 308.5,199.5 313.5,202.5"/>
<polyline stroke="#000000" stroke-width="1" points="276,161.2 267.2,165.8 259.8,169.5 258.5,177 256,187 252.2,194.5 250.5,202 251.5,210.8 253,213.2 249.8,220.8 248.5,227 246,234.5 241,239.5 236,247 232.2,252 228.5,258.2 227.2,264.5 223.5,268.2 218.5,269.5 217.2,274.5 216,280.8 214,287 213.5,297 212.2,303.2 206,304.5 199.8,307 199,312 197.2,315.8 202.2,318.2 208.5,322 211.5,325.8"/>
<polyline stroke="#000000" stroke-width="1" points="253,213.2 258.5,212 263.5,213.2 267.2,212 269.8,208.2 272.2,204.5 274.8,207 278.5,208.2 283.5,209.5 288.5,208.2 296,209.5 302.2,208.2 306,210.8 313.5,210.8"/>
<polyline stroke="#000000" stroke-width="1" points="154.8,279 161,283.2 167.2,284 173.5,279.5 178.5,274.5 182.2,269.5 187.2,264.5 186,257 185.5,251.5 183,250.8 193.5,250 193.5,245.8 199.8,245.8 200.5,250.8 198.5,255.8 199,262 200.5,268.2 206,270.8 209.8,275.8 212.2,282 214,287"/>
</g>
<g clip-path="url(#c6)" fill="none" stroke-linejoin="round" shape-rendering="crispEdges">
<polyline stroke="#000000" stroke-width="1" points="212.2,322.8 218.5,329 226,335.2 228.5,342.8 231,349 236,354 241,354 241.5,360.2 242.2,365.2"/>
<polyline stroke="#000000" stroke-width="1" points="242.2,366.5 256,368.5 261,371.5 268.5,375.2 276,380.2 286,382.8 298.5,384 303.5,379 308.5,375.2 313.5,373.5"/>
<polyline stroke="#000000" stroke-width="1" points="213.5,372.8 218.5,366.5 224.8,362.8 232.2,360.2 235.5,361.5 233.5,364.5 242.2,365.2"/>
<polyline stroke="#000000" stroke-width="1" points="154.8,377.2 162.2,380.2 164.8,382.8 167.2,379.5 173.5,377.8 178.5,380.2 182.2,377.8 188.5,378.5 196,377 202.2,377.8 208.5,374 213.5,372.8"/>
<polyline stroke="#000000" stroke-width="1" points="213.5,372.8 214.8,377.8 218.5,381.5 219.8,386.5 223.5,391.5 226.5,396.5 228,404 227.2,410.2 223.5,416.5 219.8,421.5 216,426.5 212.2,431.5 211,441.5 211,454"/>
<polyline stroke="#000000" stroke-width="1" points="164.8,382.8 162.2,389 161,396.5 164.8,401.5 168.5,405.2 163.5,411.5 158.5,416.5 154.8,421"/>
<polyline stroke="#000000" stroke-width="1" points="154.8,454 211,454 269.8,486.8"/>
<polyline stroke="#000000" stroke-width="1" points="154.8,455.2 158.5,459 161,464 162.2,471.5 159.8,476.5 154.8,481"/>
</g>
<g clip-path="url(#c7)" fill="none" stroke-linejoin="round" shape-rendering="crispEdges">
<polyline stroke="#000000" stroke-width="1" points="294,531 296.5,529.8 299.8,534.8 300.5,539.8 297.2,539.8 294.8,536 294,531"/>
<polyline stroke="#000000" stroke-width="1" points="269,484.8 272.2,494.8 281,501.5 288.5,508 294.2,511.8"/>
<polyline stroke="#000000" stroke-width="1" points="311,484 306,496 301,504.8 294.2,511.8 293,518.5 289.8,526 288,533.5 288.5,539.8 293,543.5 297.2,547.2 299,551.5 296,554.8 294.8,559.8 297.2,564.8 296,571 297.2,577.2 299.8,582.2 302.2,588.5 303.5,594.8 306,598.5 309.8,600.5 313.5,601.5"/>
<polyline stroke="#000000" stroke-width="1" points="313.5,605.5 306,609.8 298.5,613.5 291,615.5 283.5,617.2 279.8,616 273.5,617.2 269.8,621 263.5,623 257.2,622.2 252.2,624 246,623 241,618.5 236,621 228.5,621.5 223.5,621"/>
<polyline stroke="#000000" stroke-width="1" points="154.8,556 159.8,563.5 163.5,569.8 167.2,574.8 173.5,577.2 181,580.5 188.5,583.5 196,587.2 202.2,588.5 211,590.5"/>
<polyline stroke="#000000" stroke-width="1" points="196,587.2 201,593.5 204.8,599.8 206,606 202.2,609.8 201,616 201.5,622.2 200.5,628.5"/>
<polyline stroke="#000000" stroke-width="1" points="220.5,597.2 222.2,606 223,613.5 224.8,619.8 221.5,626 220.5,628.5"/>
</g>
<g clip-path="url(#c8)" fill="none" stroke-linejoin="round" shape-rendering="crispEdges">
<polyline stroke="#000000" stroke-width="1" points="310.8,199.5 317,203.2 323.2,207 328.2,212 333.2,218.2 338.2,222 343.2,226.5 345.8,230.8 349.5,234.5 353.2,235.8 357,238.2 359.5,243.2 360,248.2 355.8,250.8 352,253.2 348.2,255 347,257 349.5,257.5 353.2,256.5 358.2,256.5 359.5,260.8 362,263.2 365.8,267 370.8,272 374.5,274 383.2,274 389.5,272 395.8,269 399.5,267.5 404.5,269 408.2,270 414.5,267 422,263.2 429.5,262 437,260.8 444.5,259.5 452,260 459.5,258.2 469.5,256.2"/>
<polyline stroke="#000000" stroke-width="1.5" points="333.2,218.2 338.2,220.8 343.2,224.5"/>
<polyline stroke="#000000" stroke-width="1" points="310.8,210.8 322,217 330.8,225.8 338.2,234.5 344.5,242 339.5,248.2 335.8,254.5 335.8,260.8 337,265 343.2,265.8 349.5,264 353.2,262 357,258.2 358.2,256.5"/>
<polyline stroke="#000000" stroke-width="1" points="344.5,242 349.5,243.2 352,239.5 350.8,235"/>
<polyline stroke="#000000" stroke-width="1" points="358.2,256.5 357,262 353.2,265.8 349.5,269.5 350.8,275.8 354.5,280.8 358.2,285.8 362,290.8 367,294.5 372,297 387,302 399.5,305.8 412,309.5 424.5,312 433.2,312.5 427,318.2 420.8,325.8"/>
<polyline stroke="#000000" stroke-width="1" points="469.5,308.2 463.2,314.5 460.8,320.8 459,325.8"/>
</g>
<g clip-path="url(#c9)" fill="none" stroke-linejoin="round" shape-rendering="crispEdges">
<polyline stroke="#000000" stroke-width="1" points="310.8,372.8 318.2,371.5 323.2,375.2 329.5,376.5 337,375.2 344.5,372.8 353.2,369 357,364.5 365.8,362 377,361 385.8,360.2 394.5,351.5 407,339 423.2,322.8"/>
<polyline stroke="#000000" stroke-width="1" points="337,375.2 332,382.8 325.8,389 322,395.2 322,424 322,450.2 327,457.8 330.8,462.8"/>
<polyline stroke="#000000" stroke-width="1" points="460.8,322.8 454.5,329 450.8,336.5 448.2,345.2 442,354 434.5,364 427,372.8 419.5,381 419.5,380.2 412,387.8 404.5,395.2 397,401.5 387,407.8 377,414 369.5,420.2 362,426.5 354.5,434 347,441.5 342,447.8 337,454 332,460.2 327,466.5 322,472.8 317,477.8 310.8,481"/>
<polyline stroke="#000000" stroke-width="2.5" points="339.5,451.5 334.5,456.5 329.5,462.8 323.2,470.2 318.2,475.2"/>
</g>
<g clip-path="url(#c10)" fill="none" stroke-linejoin="round" shape-rendering="crispEdges">
<polyline stroke="#000000" stroke-width="1" points="310.8,600.5 313.2,602.2 315.8,606 317,611 315,616 314,622.2 314.5,628 311.5,628"/>
<polyline stroke="#000000" stroke-width="1.5" points="313.2,611 317.5,613.5 314.5,617.2"/>
<polyline stroke="#000000" stroke-width="1" points="357.8,619 360.8,619 361.5,626 359.5,627.2 358.2,623 357.8,619"/>
</g>
<g clip-path="url(#c11)" fill="none" stroke-linejoin="round" shape-rendering="crispEdges">
<polyline stroke="#000000" stroke-width="1" points="466.8,256.5 471.8,254 474.2,250 478,249.5 485.5,251.5 483.5,257 481.8,262 482.5,269.5 483.5,273.2 478.5,275.8 478,284.5 477.5,290.8 473,297 469.2,304.5 466.8,309.5"/>
</g>
<g clip-path="url(#c12)" fill="none" stroke-linejoin="round" shape-rendering="crispEdges">
</g>
<g clip-path="url(#c13)" fill="none" stroke-linejoin="round" shape-rendering="crispEdges">
</g>
<g clip-path="url(#c14)" fill="none" stroke-linejoin="round" shape-rendering="crispEdges">
</g>
<g clip-path="url(#c15)" fill="none" stroke-linejoin="round" shape-rendering="crispEdges">
</g>
<g clip-path="url(#c16)" fill="none" stroke-linejoin="round" shape-rendering="crispEdges">
</g>
<g clip-path="url(#c17)" fill="none" stroke-linejoin="round" shape-rendering="crispEdges">
</g>
<g clip-path="url(#c18)" fill="none" stroke-linejoin="round" shape-rendering="crispEdges">
</g>
<g clip-path="url(#c19)" fill="none" stroke-linejoin="round" shape-rendering="crispEdges">
</g>
</svg>
<div class="t" id="t1">Onset of Rains Current</div>
<div class="t" id="t2">June 2007 Dekad 2</div>
<div class="t" id="lt1">Onset of Rains (SOS)</div>
<div class="t" id="lt2">(2007-06-2)</div>
<div class="sw" style="left:443px;top:404.0px;background:#0A8CA8"></div>
<div class="t lb" style="left:477px;top:406.0px">&lt;= Mar 1</div>
<div class="sw" style="left:443px;top:424.0px;background:#28D2FF"></div>
<div class="t lb" style="left:477px;top:426.0px">Mar 2</div>
<div class="sw" style="left:443px;top:443.0px;background:#96F0FF"></div>
<div class="t lb" style="left:477px;top:445.0px">Mar 3</div>
<div class="sw" style="left:443px;top:462.0px;background:#00B43C"></div>
<div class="t lb" style="left:477px;top:464.0px">Apr 1</div>
<div class="sw" style="left:443px;top:482.0px;background:#3CFA96"></div>
<div class="t lb" style="left:477px;top:484.0px">Apr 2</div>
<div class="sw" style="left:443px;top:501.0px;background:#AAFFD2"></div>
<div class="t lb" style="left:477px;top:503.0px">Apr 3</div>
<div class="sw" style="left:443px;top:520.0px;background:#F0780A"></div>
<div class="t lb" style="left:477px;top:522.0px">May 1</div>
<div class="sw" style="left:443px;top:540.0px;background:#FF9628"></div>
<div class="t lb" style="left:477px;top:542.0px">May 2</div>
<div class="sw" style="left:443px;top:559.0px;background:#FFB4AA"></div>
<div class="t lb" style="left:477px;top:561.0px">May 3</div>
<div class="sw" style="left:529px;top:404.0px;background:#0046AA"></div>
<div class="t lb" style="left:562px;top:406.0px">Jun 1</div>
<div class="sw" style="left:529px;top:424.0px;background:#005AE6"></div>
<div class="t lb" style="left:562px;top:426.0px">Jun 2</div>
<div class="sw" style="left:529px;top:443.0px;background:#0A6EFF"></div>
<div class="t lb" style="left:562px;top:445.0px">Jun 3</div>
<div class="sw" style="left:529px;top:462.0px;background:#F5E6C8"></div>
<div class="t lb" style="left:562px;top:464.0px">Jul 1</div>
<div class="sw" style="left:529px;top:482.0px;background:#E6CD9B"></div>
<div class="t lb" style="left:562px;top:484.0px">Jul 2</div>
<div class="sw" style="left:529px;top:501.0px;background:#D2A83C"></div>
<div class="t lb" style="left:562px;top:503.0px">Jul 3</div>
<div class="sw" style="left:529px;top:520.0px;background:#96600A"></div>
<div class="t lb" style="left:562px;top:522.0px">&gt;= Aug 1</div>
<div class="sw" style="left:529px;top:540.0px;background:#FFF582"></div>
<div class="t lb" style="left:562px;top:542.0px">No Start</div>
<div class="t" id="ft">Map produced by USGS/EROS</div>
<!--LOGOS_START--><svg style="position:absolute;left:0;top:0;will-change:transform" width="624" height="648" viewBox="0 0 624 648">
<!-- USGS -->
<g>
<rect x="400" y="617" width="14.5" height="15.2" fill="#00754f"/>
<g fill="none" stroke="#fff" stroke-width="1.1">
<path d="M400 620.2 C404 620.2 406 624.6 414.5 618.6"/>
<path d="M400 623.2 C404.5 623.2 407 627.4 414.5 621.6"/>
<path d="M400 626.4 C404.5 626.0 407 630.0 414.5 624.8"/>
<path d="M400 629.8 C405 624.5 409 630.6 414.5 628.2"/>
</g>
<text x="416" y="632.2" font-family="Liberation Sans, Arial, sans-serif" font-weight="bold" font-size="21" fill="#00754f" stroke="#00754f" stroke-width="0.35" textLength="39" lengthAdjust="spacingAndGlyphs">USGS</text>
<text x="400" y="638.4" font-family="Liberation Sans, Arial, sans-serif" font-weight="bold" font-style="italic" font-size="5" fill="#00754f" textLength="55" lengthAdjust="spacingAndGlyphs">science for a changing world</text>
</g>
<!-- USAID seal -->
<g>
<circle cx="470.8" cy="626.6" r="10.6" fill="#fff" stroke="#3c5aa8" stroke-width="1"/>
<circle cx="470.8" cy="626.6" r="8.6" fill="none" stroke="#8fa3d4" stroke-width="2.2" stroke-dasharray="0.7 0.5"/>
<circle cx="470.8" cy="626.6" r="7" fill="#fff" stroke="#3c5aa8" stroke-width="0.6"/>
<path d="M466.3 621.6 h9 v2.6 h-9z" fill="#2d4fa6"/>
<path d="M466.3 625.6 h9 M466.6 627.2 h8.4" stroke="#555" stroke-width="0.7" fill="none"/>
<path d="M466.4 629 h8.8 c-0.4 2.2 -2.4 3.6 -4.4 4.4 c-2 -0.8 -4 -2.2 -4.4 -4.4z" fill="#d8304a"/>
<path d="M466.8 630.4 h8 M467.8 631.8 h6" stroke="#fff" stroke-width="0.45" fill="none"/>
</g>
<!-- USAID text -->
<text x="484.4" y="631.6" font-family="Liberation Sans, Arial, sans-serif" font-weight="bold" font-size="16.3" textLength="51" lengthAdjust="spacingAndGlyphs"><tspan fill="#1f3f95">US</tspan><tspan fill="#c8143c">AID</tspan></text>
<text x="485" y="636" font-family="Liberation Sans, Arial, sans-serif" font-weight="bold" font-size="3.3" fill="#1f3f95" textLength="50" lengthAdjust="spacingAndGlyphs">FROM THE AMERICAN PEOPLE</text>
<!-- FEWS NET -->
<g>
<circle cx="551.6" cy="627" r="10.5" fill="#fff" stroke="#c8661e" stroke-width="1.5"/>
<circle cx="551.6" cy="627" r="8.2" fill="#f4f8f2" stroke="#d9a06a" stroke-width="0.5"/>
<path d="M546.2 622.8 l2.2 -1.6 l2.4 0.4 l-0.6 2 l-1.8 1.2 l0.4 2 l-1.4 2.6 l-1 -2.2 l-1 -1.6 z" fill="#1f8a3c"/>
<path d="M551.8 621.2 l3.6 -1 l3 1.6 l0.6 2.6 l-1.6 1 l-0.8 3.4 l-2 2.8 l-1.4 -2.4 l0.4 -2.6 l-2.4 -1 l-0.6 -2.2 z" fill="#1f8a3c"/>
<path d="M546.8 630.6 l1.6 0.6 l0.6 2 l-1.4 0.6 z M557 630.2 l1.4 0.4 l-0.6 1.8 z" fill="#1f8a3c"/>
<text x="563.6" y="628.7" font-family="Liberation Serif, Times New Roman, serif" font-weight="bold" font-size="11.9" fill="#b4601e" textLength="51.5" lengthAdjust="spacingAndGlyphs">FEWS NET</text>
<rect x="561.5" y="630.1" width="54" height="1" fill="#c8661e"/>
<text x="564" y="635.4" font-family="Liberation Sans, Arial, sans-serif" font-weight="bold" font-size="2.7" fill="#8a4a1a" textLength="51" lengthAdjust="spacingAndGlyphs">FAMINE EARLY WARNING SYSTEMS NETWORK</text>
</g>
</svg>
<!--LOGOS_END-->
</body></html>
